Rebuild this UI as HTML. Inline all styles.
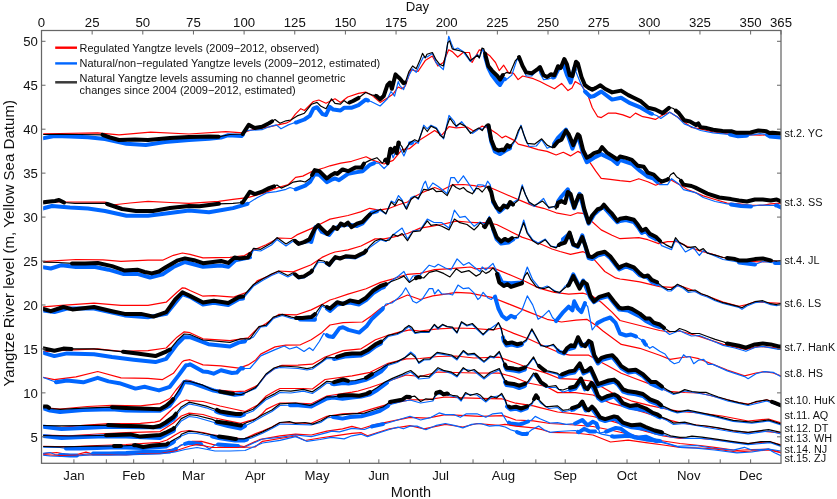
<!DOCTYPE html><html><head><meta charset="utf-8"><style>html,body{margin:0;padding:0;background:#fff;}svg{display:block;}text{font-family:"Liberation Sans",sans-serif;fill:#111;}.t{filter:grayscale(1)}</style></head><body>
<svg width="837" height="499" viewBox="0 0 837 499">
<rect width="100%" height="100%" fill="#fff"/><defs><clipPath id="plotclip"><rect x="43.2" y="30.5" width="737.8" height="432.8"/></clipPath></defs>
<g clip-path="url(#plotclip)"><g><path d="M42.0 134.0L60.0 133.5L97.7 132.8L119.0 134.8L150.6 132.1L189.0 134.0L225.9 131.6L242.7 132.8L252.3 129.7L269.0 126.8L286.0 123.2L290.0 121.3L295.4 114.1L300.8 108.7L304.4 110.5L313.4 101.5L318.8 100.0L326.0 103.3L335.0 98.8L340.5 102.4L347.7 97.0L358.5 93.4L365.7 92.1L372.9 96.1L380.1 102.4L387.4 97.9L392.8 94.3L398.2 87.0L401.8 88.8L405.4 85.9L410.8 69.7L418.0 71.5L425.2 60.6L432.4 56.1L437.9 66.0L443.3 62.5L448.7 49.8L452.3 51.6L457.7 57.0L463.1 52.5L469.4 52.5L472.1 62.5L479.3 49.8L483.0 50.7L490.1 56.1L495.5 62.5L499.2 70.6L503.7 65.2L508.2 72.4L513.6 73.3L518.1 79.6L522.6 76.0L533.4 78.7L540.0 81.5L547.2 85.2L554.4 88.8L561.6 83.4L568.0 90.6L572.0 88.0L575.2 81.5L581.5 85.2L587.8 95.1L592.3 107.7L597.7 116.7L601.3 117.6L608.5 113.1L615.7 113.1L622.9 114.9L630.1 117.6L635.5 113.1L642.8 116.7L648.2 117.6L655.4 119.4L662.6 114.9L669.8 112.2L677.0 116.7L684.2 122.1L691.3 127.3L700.6 128.9L713.1 132.0L728.8 134.0L744.4 134.7L760.0 135.2L769.4 134.7L781.0 133.6" stroke="#ff0000" stroke-width="1.2" fill="none" stroke-linejoin="round" stroke-linecap="round"/><path d="M42.0 138.4L54.4 136.0L70.0 136.5L88.0 137.2L105.0 139.0L126.5 143.7L145.8 144.9L165.0 142.0L189.0 140.0L209.0 138.8L221.0 137.6L228.3 135.2L241.5 136.0L247.5 130.4L262.0 129.7L269.0 126.8L276.3 124.9L281.0 128.8L288.4 124.9L293.0 123.2L297.2 122.2L304.4 119.5L309.8 115.9L313.4 108.7L317.0 107.2L322.4 114.1L326.0 115.0L329.7 106.9L333.3 109.6L340.5 110.5L344.0 107.8L351.3 107.8L358.5 105.1L365.7 99.7L371.0 101.5L380.1 106.0L387.4 98.8L391.0 91.5L394.6 96.1L398.2 81.6L400.0 85.9L403.6 89.5L409.0 75.1L412.6 68.8L416.2 72.4L419.8 64.3L423.4 57.0L427.0 57.0L432.4 53.4L436.0 62.5L439.7 66.0L443.3 69.7L446.0 55.2L448.7 36.3L451.4 43.5L454.1 49.8L457.7 48.0L463.1 51.6L470.3 61.5L477.5 54.3L479.3 57.9L482.9 48.9L488.3 67.9L491.9 75.1L497.4 82.3L500.0 85.0L503.7 78.7L506.4 79.6L511.8 75.1L517.2 58.8L520.8 62.5L526.2 76.0L531.6 76.0L538.8 68.8L540.0 73.4L543.6 79.7L549.0 78.8L554.4 77.0L558.0 69.8L563.4 64.4L567.0 75.2L570.6 82.5L574.3 68.0L581.5 85.2L585.0 91.5L590.5 96.9L594.0 96.0L601.3 91.5L612.1 99.6L621.1 97.8L630.1 103.2L641.0 107.7L650.0 113.1L657.2 115.8L660.8 118.5L669.8 112.2L677.0 116.7L684.2 123.9L691.3 126.6L700.6 130.5L713.1 132.8L728.8 134.4L738.0 136.2L746.0 135.7L753.8 134.7L760.0 133.6L766.3 134.4L770.0 136.5L781.0 137.5" stroke="#0066ff" stroke-width="1.2" fill="none" stroke-linejoin="round" stroke-linecap="round"/><path d="M42.0 138.4L54.4 136.0L70.0 136.5L88.0 137.2L105.0 139.0L126.5 143.7L145.8 144.9L165.0 142.0L189.0 140.0L209.0 138.8L221.0 137.6L228.3 135.2L241.5 136.0L243.0 134.6" stroke="#0066ff" stroke-width="4.0" fill="none" stroke-linejoin="round" stroke-linecap="round"/><path d="M296.0 122.5L297.2 122.2L304.4 119.5L309.8 115.9L313.4 108.7L317.0 107.2L322.4 114.1L326.0 115.0L329.7 106.9L333.3 109.6L340.5 110.5L344.0 107.8L351.3 107.8L358.5 105.1L365.7 99.7L368.0 100.5" stroke="#0066ff" stroke-width="4.0" fill="none" stroke-linejoin="round" stroke-linecap="round"/><path d="M485.0 56.3L488.3 67.9L491.9 75.1L497.4 82.3L500.0 85.0L503.7 78.7L505.0 79.1" stroke="#0066ff" stroke-width="4.0" fill="none" stroke-linejoin="round" stroke-linecap="round"/><path d="M553.0 77.5L554.4 77.0L558.0 69.8L563.4 64.4L567.0 75.2L570.6 82.5L574.3 68.0L575.0 69.7" stroke="#0066ff" stroke-width="4.0" fill="none" stroke-linejoin="round" stroke-linecap="round"/><path d="M585.0 91.5L590.5 96.9L594.0 96.0L601.3 91.5L612.1 99.6L621.1 97.8L630.1 103.2L641.0 107.7L650.0 113.1L652.0 113.8" stroke="#0066ff" stroke-width="4.0" fill="none" stroke-linejoin="round" stroke-linecap="round"/><path d="M730.0 134.6L738.0 136.2L746.0 135.7L747.0 135.6" stroke="#0066ff" stroke-width="4.0" fill="none" stroke-linejoin="round" stroke-linecap="round"/><path d="M767.0 134.8L770.0 136.5L781.0 137.5" stroke="#0066ff" stroke-width="4.0" fill="none" stroke-linejoin="round" stroke-linecap="round"/><path d="M42.0 134.5L60.0 134.3L80.0 134.5L102.5 134.8L110.0 137.5L119.0 140.0L135.0 139.5L148.0 140.0L170.0 138.0L189.0 137.0L209.0 136.5L218.6 136.8L230.0 134.5L242.7 134.0L248.7 124.9L254.7 128.0L262.0 126.8L269.0 123.2L275.0 119.6L280.0 123.2L286.0 120.8L290.8 120.0L297.2 115.9L304.4 113.2L311.6 104.2L317.0 102.4L320.6 106.0L326.0 108.7L331.5 98.8L335.0 103.3L340.5 104.2L344.0 100.6L347.7 103.3L353.0 101.0L358.5 97.9L362.0 95.2L365.7 92.5L372.9 95.2L376.5 96.0L380.1 99.3L383.7 96.0L387.4 85.2L390.0 82.5L391.9 88.8L395.5 74.4L398.2 77.1L400.0 78.7L403.6 83.2L405.4 82.3L409.0 71.5L412.6 66.0L416.2 68.8L419.8 60.6L422.5 53.4L425.2 57.9L427.0 54.3L432.4 52.5L436.0 59.7L439.7 64.3L443.3 66.0L446.0 53.4L447.8 42.6L449.6 40.8L452.3 48.9L455.9 49.8L459.5 50.7L464.9 52.5L470.3 60.6L473.9 57.9L477.5 55.2L479.3 57.9L482.0 48.0L483.8 48.9L488.3 66.0L491.9 70.6L497.4 76.0L500.0 79.6L502.8 75.1L506.4 72.4L510.0 73.3L515.4 60.6L519.0 57.0L522.6 66.0L526.2 72.4L531.6 73.3L537.0 69.7L540.0 67.1L543.6 75.2L547.2 77.0L550.8 74.3L554.4 75.2L558.0 66.2L560.7 68.0L564.3 59.0L567.0 64.4L569.7 75.2L572.4 76.1L576.0 61.7L577.9 63.5L581.5 77.0L585.0 85.2L588.7 87.9L592.3 89.7L595.9 87.9L600.4 85.2L604.9 88.8L612.1 92.4L621.1 90.6L628.3 95.1L633.7 97.8L641.0 101.4L648.2 107.7L655.4 109.5L662.6 113.1L669.8 107.3L673.4 108.5L678.8 113.1L684.2 120.3L690.0 121.5L696.0 125.0L698.3 123.4L700.6 127.3L706.9 128.1L713.1 129.7L722.5 130.9L731.9 131.3L736.6 132.8L744.4 132.8L750.6 132.5L758.4 130.5L766.3 131.3L769.4 133.1L772.5 132.8L781.0 133.6" stroke="#000000" stroke-width="1.2" fill="none" stroke-linejoin="round" stroke-linecap="round"/><path d="M102.5 134.8L110.0 137.5L119.0 140.0L135.0 139.5L148.0 140.0L170.0 138.0L189.0 137.0L209.0 136.5L218.6 136.8" stroke="#000000" stroke-width="4.0" fill="none" stroke-linejoin="round" stroke-linecap="round"/><path d="M242.7 134.0L248.7 124.9L254.7 128.0L262.0 126.8L269.0 123.2L272.0 121.4" stroke="#000000" stroke-width="4.0" fill="none" stroke-linejoin="round" stroke-linecap="round"/><path d="M349.5 102.5L353.0 101.0L358.5 97.9" stroke="#000000" stroke-width="4.0" fill="none" stroke-linejoin="round" stroke-linecap="round"/><path d="M376.0 95.9L376.5 96.0L380.1 99.3L383.7 96.0L387.4 85.2L390.0 82.5L391.9 88.8L395.5 74.4L398.2 77.1L400.0 78.7L403.6 83.2L405.0 82.5" stroke="#000000" stroke-width="4.0" fill="none" stroke-linejoin="round" stroke-linecap="round"/><path d="M485.0 53.5L488.3 66.0L491.9 70.6L497.4 76.0L500.0 79.6L502.8 75.1L503.0 75.0" stroke="#000000" stroke-width="4.0" fill="none" stroke-linejoin="round" stroke-linecap="round"/><path d="M519.0 57.0L522.6 66.0L526.2 72.4L531.6 73.3L537.0 69.7L540.0 67.1L543.6 75.2L547.2 77.0L550.8 74.3L554.4 75.2L558.0 66.2L560.7 68.0L564.3 59.0L567.0 64.4L569.7 75.2L572.4 76.1L576.0 61.7L577.9 63.5L581.5 77.0L585.0 85.2L588.7 87.9L592.3 89.7L595.9 87.9L600.4 85.2L604.9 88.8L612.1 92.4L621.1 90.6L628.3 95.1L633.7 97.8L641.0 101.4L648.2 107.7L655.4 109.5L662.6 113.1L669.0 107.9" stroke="#000000" stroke-width="4.0" fill="none" stroke-linejoin="round" stroke-linecap="round"/><path d="M676.0 110.7L678.8 113.1L684.2 120.3L690.0 121.5L696.0 125.0L698.3 123.4L700.6 127.3L706.9 128.1L713.1 129.7L722.5 130.9L731.9 131.3L736.6 132.8L744.4 132.8L750.6 132.5L758.4 130.5L766.3 131.3L769.4 133.1L772.5 132.8L781.0 133.6" stroke="#000000" stroke-width="4.0" fill="none" stroke-linejoin="round" stroke-linecap="round"/></g>
<g><path d="M42.0 202.0L66.0 202.0L105.0 202.1L112.0 205.0L130.0 203.0L148.0 201.3L170.0 202.5L189.0 203.3L218.6 201.3L233.0 199.4L247.5 197.7L264.3 192.9L276.3 188.1L288.4 184.5L295.6 177.3L302.8 176.1L312.4 171.3L324.4 167.7L330.0 165.8L340.8 163.1L351.6 161.3L366.1 156.8L373.3 160.4L384.1 164.0L393.1 160.4L402.1 149.6L409.3 148.7L420.1 139.7L427.3 135.2L434.6 130.6L441.8 135.2L449.0 126.7L456.2 127.9L467.0 127.0L472.4 130.3L475.0 131.5L482.2 126.1L489.4 128.8L496.6 133.4L502.0 137.9L505.6 136.0L514.7 140.6L518.3 144.2L529.1 146.9L538.1 149.6L547.1 151.4L556.1 155.0L563.3 152.3L570.5 155.9L577.8 151.4L583.2 154.1L590.4 163.1L595.8 171.2L601.2 178.4L610.2 179.3L620.0 180.7L629.9 181.7L638.8 178.7L647.8 181.7L655.7 185.2L663.6 182.0L670.6 179.7L679.5 184.6L687.4 189.6L695.4 192.6L703.3 195.9L715.2 199.5L727.1 203.1L739.0 203.9L750.9 205.4L762.8 205.4L770.7 203.9L781.0 203.1" stroke="#ff0000" stroke-width="1.2" fill="none" stroke-linejoin="round" stroke-linecap="round"/><path d="M42.0 208.6L52.0 206.0L70.0 207.5L88.0 208.6L105.0 211.0L126.5 215.8L148.0 215.8L170.0 213.0L189.0 210.5L209.0 212.2L223.5 209.8L233.0 208.1L247.5 203.8L257.1 197.7L266.7 192.9L276.3 191.7L286.0 189.3L290.0 187.5L295.6 189.3L305.2 185.7L310.0 182.0L314.8 173.7L319.6 175.0L326.8 182.1L331.6 179.7L335.0 178.5L339.0 180.2L348.0 173.9L357.0 172.1L362.5 171.2L369.7 164.9L374.2 163.1L378.7 163.1L384.1 168.5L387.7 164.9L391.3 152.3L393.1 157.7L398.5 145.1L403.9 155.9L409.3 143.3L411.0 143.3L414.7 141.5L418.3 143.3L423.7 125.2L427.3 128.8L431.0 125.2L436.4 127.9L443.6 138.8L449.0 115.3L454.4 121.6L456.2 127.0L461.6 121.6L468.8 130.6L472.4 133.4L480.0 127.9L482.2 129.7L485.8 126.0L488.5 126.5L491.2 141.5L494.8 151.4L500.2 154.1L505.6 150.5L509.3 148.7L511.0 147.8L516.5 137.9L521.0 125.2L525.5 139.7L529.1 146.5L536.3 146.0L541.7 139.7L547.1 148.3L552.5 146.0L557.9 137.9L566.0 129.7L572.4 148.7L577.8 135.2L583.2 154.1L586.8 162.2L594.0 157.7L601.2 154.1L612.0 159.5L617.4 164.0L620.0 159.8L631.9 163.8L639.8 170.7L647.8 176.7L653.7 178.7L659.7 184.6L667.6 184.6L671.6 178.7L679.5 184.6L683.5 189.6L695.4 192.6L703.3 197.5L715.2 201.5L727.1 203.9L731.0 204.5L741.0 206.0L751.0 206.4L760.0 205.0L770.7 205.4L776.7 205.4L781.0 207.4" stroke="#0066ff" stroke-width="1.2" fill="none" stroke-linejoin="round" stroke-linecap="round"/><path d="M42.0 208.6L52.0 206.0L70.0 207.5L88.0 208.6L105.0 211.0L126.5 215.8L148.0 215.8L170.0 213.0L189.0 210.5L209.0 212.2L223.5 209.8L233.0 208.1L247.5 203.8" stroke="#0066ff" stroke-width="4.0" fill="none" stroke-linejoin="round" stroke-linecap="round"/><path d="M295.6 189.3L305.2 185.7L310.0 182.0L314.8 173.7L319.6 175.0L326.8 182.1L331.6 179.7L335.0 178.5L339.0 180.2L348.0 173.9L357.0 172.1L362.5 171.2L369.7 164.9L374.2 163.1" stroke="#0066ff" stroke-width="4.0" fill="none" stroke-linejoin="round" stroke-linecap="round"/><path d="M410.0 143.3L411.0 143.3L412.0 142.8" stroke="#0066ff" stroke-width="4.0" fill="none" stroke-linejoin="round" stroke-linecap="round"/><path d="M488.0 126.4L488.5 126.5L491.2 141.5L494.8 151.4L500.2 154.1L505.6 150.5L509.3 148.7L510.0 148.3" stroke="#0066ff" stroke-width="4.0" fill="none" stroke-linejoin="round" stroke-linecap="round"/><path d="M554.0 143.8L557.9 137.9L566.0 129.7L572.4 148.7L577.8 135.2L583.2 154.1L586.8 162.2L594.0 157.7L601.2 154.1L612.0 159.5L617.4 164.0L620.0 159.8L631.9 163.8L639.8 170.7L647.8 176.7L653.7 178.7L657.0 181.9" stroke="#0066ff" stroke-width="4.0" fill="none" stroke-linejoin="round" stroke-linecap="round"/><path d="M731.0 204.5L741.0 206.0L751.0 206.4" stroke="#0066ff" stroke-width="4.0" fill="none" stroke-linejoin="round" stroke-linecap="round"/><path d="M776.0 205.4L776.7 205.4L781.0 207.4" stroke="#0066ff" stroke-width="4.0" fill="none" stroke-linejoin="round" stroke-linecap="round"/><path d="M42.0 202.5L50.0 201.5L55.0 201.0L59.0 200.0L64.0 202.5L75.0 203.3L90.0 203.3L105.0 203.3L107.3 204.0L122.0 209.0L136.0 211.0L153.0 211.0L170.0 208.0L189.0 206.0L199.4 206.2L218.6 203.8L233.0 203.3L242.7 202.5L250.0 191.7L254.7 194.1L262.0 191.7L269.1 188.1L274.0 186.4L277.0 185.0L281.2 188.1L288.4 185.0L293.2 182.1L300.4 180.9L305.2 182.0L310.0 178.5L314.8 170.1L319.6 171.3L326.8 178.5L331.6 174.9L335.0 173.0L337.2 173.9L342.6 169.4L348.0 171.2L355.2 167.6L361.5 167.6L364.3 163.1L369.7 160.4L376.9 157.7L382.3 163.1L385.9 159.5L387.7 163.1L390.4 148.7L392.2 152.3L394.9 147.8L396.7 153.2L398.5 142.4L402.1 146.9L403.9 152.3L405.7 148.7L410.2 142.4L414.7 139.7L418.3 141.5L423.7 127.0L427.3 131.5L431.0 126.1L436.4 128.8L440.0 135.2L443.6 137.9L447.2 125.2L449.9 118.0L453.5 123.4L456.2 126.1L459.8 123.4L465.2 126.1L470.6 133.4L474.2 130.6L478.7 128.0L482.2 130.6L485.8 125.2L488.5 125.2L491.2 139.7L494.8 148.7L498.4 150.5L502.0 149.6L503.8 150.5L507.4 145.1L509.3 146.9L514.7 140.6L518.3 130.6L521.0 126.1L523.7 134.3L527.3 143.3L534.5 144.2L541.7 138.8L547.1 145.1L552.5 147.8L557.9 141.5L561.5 139.7L566.0 130.6L568.7 134.3L573.3 145.1L577.8 134.3L579.6 136.0L583.2 150.5L586.8 157.7L590.4 155.9L594.0 153.2L599.4 151.4L602.1 147.2L606.6 152.3L612.0 155.9L617.4 159.5L620.0 156.5L626.0 157.9L631.9 159.8L637.9 165.8L643.8 166.8L647.8 172.7L653.7 174.7L658.7 179.7L661.6 181.7L667.6 179.7L670.6 174.7L673.5 172.7L676.5 176.7L679.5 178.7L683.5 184.6L691.4 186.0L695.4 187.6L699.3 189.6L707.3 193.6L719.2 197.5L731.1 199.1L739.0 200.5L746.9 201.5L754.9 199.5L762.8 199.5L770.7 200.5L776.7 199.5L781.0 201.5" stroke="#000000" stroke-width="1.2" fill="none" stroke-linejoin="round" stroke-linecap="round"/><path d="M42.0 202.5L50.0 201.5L55.0 201.0L59.0 200.0L64.0 202.5" stroke="#000000" stroke-width="4.0" fill="none" stroke-linejoin="round" stroke-linecap="round"/><path d="M107.0 203.9L107.3 204.0L122.0 209.0L136.0 211.0L153.0 211.0L170.0 208.0L189.0 206.0L199.4 206.2L218.6 203.8L219.0 203.8" stroke="#000000" stroke-width="4.0" fill="none" stroke-linejoin="round" stroke-linecap="round"/><path d="M242.0 202.6L242.7 202.5L250.0 191.7L254.7 194.1L262.0 191.7L269.1 188.1L274.0 186.4" stroke="#000000" stroke-width="4.0" fill="none" stroke-linejoin="round" stroke-linecap="round"/><path d="M312.0 175.0L314.8 170.1L319.6 171.3L326.8 178.5L331.6 174.9L335.0 173.0L337.2 173.9L342.6 169.4L348.0 171.2L355.2 167.6L361.5 167.6L364.0 163.6" stroke="#000000" stroke-width="4.0" fill="none" stroke-linejoin="round" stroke-linecap="round"/><path d="M385.0 160.4L385.9 159.5L387.7 163.1L390.4 148.7L392.2 152.3L394.9 147.8L396.7 153.2L398.5 142.4L399.0 143.0" stroke="#000000" stroke-width="4.0" fill="none" stroke-linejoin="round" stroke-linecap="round"/><path d="M488.0 125.2L488.5 125.2L491.2 139.7L494.8 148.7L498.4 150.5L502.0 149.6L503.8 150.5L507.4 145.1L509.3 146.9L510.0 146.1" stroke="#000000" stroke-width="4.0" fill="none" stroke-linejoin="round" stroke-linecap="round"/><path d="M554.0 146.1L557.9 141.5L561.5 139.7L566.0 130.6L568.7 134.3L573.3 145.1L577.8 134.3L579.6 136.0L583.2 150.5L586.8 157.7L590.4 155.9L594.0 153.2L599.4 151.4L602.1 147.2L606.6 152.3L612.0 155.9L617.4 159.5L620.0 156.5L626.0 157.9L631.9 159.8L637.9 165.8L643.8 166.8L647.8 172.7L653.7 174.7L658.7 179.7L661.6 181.7L667.6 179.7L668.0 179.0" stroke="#000000" stroke-width="4.0" fill="none" stroke-linejoin="round" stroke-linecap="round"/><path d="M681.0 180.9L683.5 184.6L691.4 186.0L695.4 187.6L699.3 189.6L707.3 193.6L719.2 197.5L731.1 199.1L739.0 200.5L746.9 201.5L754.9 199.5L762.8 199.5L770.7 200.5L776.7 199.5L781.0 201.5" stroke="#000000" stroke-width="4.0" fill="none" stroke-linejoin="round" stroke-linecap="round"/></g>
<g><path d="M42.0 261.6L58.0 260.7L76.0 259.5L103.0 259.8L121.0 261.3L148.0 260.2L162.6 260.2L173.4 255.3L182.4 253.0L190.0 254.4L203.0 257.8L230.0 257.4L244.5 255.6L253.5 250.2L266.1 244.8L278.7 238.0L291.4 238.5L296.8 234.9L311.2 228.6L318.4 225.0L330.0 219.1L348.0 215.5L360.6 211.9L369.7 208.3L378.7 210.1L389.5 208.3L398.5 204.7L407.5 202.0L414.7 196.5L423.7 192.0L434.6 187.5L441.8 190.2L452.6 184.8L463.4 184.5L474.2 185.7L480.0 187.0L485.8 185.7L496.6 190.2L511.0 196.5L521.9 201.1L532.7 205.6L543.5 208.3L556.1 212.8L570.5 215.5L577.8 212.8L583.2 213.3L592.2 221.8L601.2 229.9L612.0 235.3L620.0 238.7L638.8 237.7L647.8 239.7L658.7 243.6L667.6 241.6L677.5 241.6L687.4 246.6L699.3 250.6L711.2 253.9L723.1 257.5L735.0 259.5L746.9 261.0L758.8 261.9L770.7 261.5L781.0 260.5" stroke="#ff0000" stroke-width="1.2" fill="none" stroke-linejoin="round" stroke-linecap="round"/><path d="M42.0 267.0L50.8 268.5L61.6 265.2L76.0 267.0L94.0 266.7L108.5 269.7L123.0 273.9L137.3 273.9L150.0 277.5L162.6 274.3L173.4 267.0L185.0 262.0L203.0 266.8L221.0 265.6L228.3 266.8L235.5 260.2L250.0 257.4L253.5 250.0L260.7 251.0L271.5 245.0L277.0 239.5L286.0 246.0L293.2 241.0L298.6 245.0L304.0 243.5L311.2 242.1L315.5 227.0L318.4 226.8L322.0 232.0L329.2 234.9L333.6 229.0L340.8 225.5L348.0 224.5L357.0 226.0L362.5 223.5L371.5 212.8L380.5 210.5L385.9 214.0L391.3 201.0L394.9 203.0L398.5 195.6L402.1 200.0L405.7 208.3L411.1 197.5L414.7 196.0L418.3 199.3L423.7 183.9L425.5 181.2L428.2 189.3L432.8 183.0L438.2 186.6L441.8 189.3L447.2 193.8L450.8 177.6L454.4 177.6L458.0 183.0L463.4 175.8L467.0 181.2L474.2 192.0L477.8 184.8L480.0 184.8L483.0 185.0L485.0 187.0L487.6 181.2L490.3 184.8L493.0 202.0L499.3 211.9L505.6 206.5L511.0 203.8L518.3 199.3L522.2 184.8L525.5 194.7L529.1 202.9L534.5 206.5L543.5 198.4L548.9 208.3L554.3 206.5L561.5 196.5L567.8 189.3L574.2 208.3L579.6 193.8L584.1 210.0L588.6 223.6L594.0 214.6L603.0 206.5L612.0 216.4L617.4 222.3L620.0 221.0L626.0 220.0L633.9 222.0L637.9 227.0L641.8 233.0L645.8 231.0L649.8 236.0L655.7 239.0L659.7 242.5L661.6 245.6L671.6 249.6L675.5 239.7L679.5 243.6L685.4 252.0L693.4 247.6L699.3 255.5L703.3 250.6L711.2 254.5L723.1 259.5L735.0 261.5L739.0 262.5L754.9 264.5L762.8 261.5L770.7 262.5L774.7 263.0L781.0 263.0" stroke="#0066ff" stroke-width="1.2" fill="none" stroke-linejoin="round" stroke-linecap="round"/><path d="M42.0 267.0L50.8 268.5L61.6 265.2L76.0 267.0L94.0 266.7L108.5 269.7L123.0 273.9L137.3 273.9L150.0 277.5L162.6 274.3L173.4 267.0L185.0 262.0L203.0 266.8L221.0 265.6L228.3 266.8L235.5 260.2L250.0 257.4" stroke="#0066ff" stroke-width="4.0" fill="none" stroke-linejoin="round" stroke-linecap="round"/><path d="M311.0 242.1L311.2 242.1L315.5 227.0L318.4 226.8L322.0 232.0L329.2 234.9L333.6 229.0L340.8 225.5L348.0 224.5L357.0 226.0L362.5 223.5L371.5 212.8L377.0 211.4" stroke="#0066ff" stroke-width="4.0" fill="none" stroke-linejoin="round" stroke-linecap="round"/><path d="M493.0 202.0L499.3 211.9L505.6 206.5L511.0 203.8" stroke="#0066ff" stroke-width="4.0" fill="none" stroke-linejoin="round" stroke-linecap="round"/><path d="M558.0 201.4L561.5 196.5L567.8 189.3L574.2 208.3L579.6 193.8L584.1 210.0L588.6 223.6L594.0 214.6L603.0 206.5L612.0 216.4L617.4 222.3L620.0 221.0L626.0 220.0L633.9 222.0L637.9 227.0L641.8 233.0L645.8 231.0L649.8 236.0L655.7 239.0L656.0 239.3" stroke="#0066ff" stroke-width="4.0" fill="none" stroke-linejoin="round" stroke-linecap="round"/><path d="M739.0 262.5L754.9 264.5L755.0 264.5" stroke="#0066ff" stroke-width="4.0" fill="none" stroke-linejoin="round" stroke-linecap="round"/><path d="M775.0 263.0L781.0 263.0" stroke="#0066ff" stroke-width="4.0" fill="none" stroke-linejoin="round" stroke-linecap="round"/><path d="M42.0 262.0L58.0 262.5L72.4 263.4L85.0 263.4L97.7 263.0L112.0 266.1L124.7 270.6L137.3 269.7L144.6 272.0L151.8 273.4L159.0 271.5L166.2 267.0L177.0 260.7L185.0 258.4L194.0 260.2L203.0 263.2L221.0 261.0L228.3 262.9L234.6 257.4L239.0 258.4L248.0 257.4L253.5 248.4L260.7 249.3L271.5 243.0L277.0 237.6L286.0 243.9L293.2 239.4L298.6 243.9L304.0 242.1L309.4 239.4L314.8 228.6L318.4 225.0L321.0 228.0L327.4 234.0L332.8 228.6L333.6 227.2L337.2 229.0L340.8 223.6L344.4 225.4L348.0 222.7L351.6 227.2L357.0 223.6L362.5 221.8L366.1 218.2L369.7 214.6L376.9 211.0L380.5 209.2L385.9 213.7L391.3 202.0L394.9 205.6L398.5 199.3L402.1 201.1L406.6 209.2L411.1 199.3L414.7 196.5L418.3 198.4L423.7 189.3L428.2 190.2L432.8 188.4L436.4 191.7L441.8 191.1L447.2 195.6L452.6 184.5L456.2 187.5L459.8 189.3L463.4 187.5L467.0 191.1L472.4 193.8L476.0 188.4L478.6 188.6L482.2 192.0L485.8 187.5L488.5 186.6L491.2 192.0L493.0 200.2L496.6 207.4L500.2 210.1L503.8 205.6L507.4 207.4L510.2 202.0L512.9 204.7L518.3 200.2L522.2 186.6L525.5 194.7L529.1 202.0L534.5 205.6L542.6 201.1L548.9 207.4L554.3 206.5L556.1 209.2L557.9 202.9L561.5 201.1L565.1 202.9L567.8 192.0L570.5 193.8L574.2 207.4L578.7 195.6L581.4 195.6L584.1 208.3L588.6 222.7L592.2 215.5L597.6 209.2L601.2 208.3L603.9 204.7L608.4 210.1L612.0 213.7L617.4 220.9L620.0 218.8L626.0 217.8L633.9 219.8L637.9 224.8L641.8 230.7L645.8 228.8L649.8 233.7L655.7 236.7L659.7 240.7L665.6 244.6L671.6 247.6L675.5 237.7L679.5 242.6L683.5 244.6L687.4 247.6L695.4 246.6L699.3 250.6L703.3 248.6L707.3 253.2L715.2 255.1L723.1 257.5L727.1 257.9L735.0 259.1L739.0 260.5L746.9 260.5L754.9 259.1L762.8 258.5L770.7 260.5L776.7 261.1L781.0 260.5" stroke="#000000" stroke-width="1.2" fill="none" stroke-linejoin="round" stroke-linecap="round"/><path d="M72.0 263.4L72.4 263.4L85.0 263.4L97.7 263.0L112.0 266.1L124.7 270.6L137.3 269.7L144.6 272.0L151.8 273.4L159.0 271.5L166.2 267.0L177.0 260.7L185.0 258.4L194.0 260.2L203.0 263.2L221.0 261.0L228.3 262.9L234.6 257.4L239.0 258.4L248.0 257.4L250.0 254.1" stroke="#000000" stroke-width="4.0" fill="none" stroke-linejoin="round" stroke-linecap="round"/><path d="M295.0 240.9L298.6 243.9L304.0 242.1L309.4 239.4L314.8 228.6L318.4 225.0L321.0 228.0L327.4 234.0L332.8 228.6L333.6 227.2L337.2 229.0L340.8 223.6L344.4 225.4L348.0 222.7L351.6 227.2L357.0 223.6L362.5 221.8L366.1 218.2L369.7 214.6L370.0 214.4" stroke="#000000" stroke-width="4.0" fill="none" stroke-linejoin="round" stroke-linecap="round"/><path d="M489.0 187.6L491.2 192.0L493.0 200.2L496.6 207.4L500.2 210.1L503.8 205.6L507.4 207.4L510.2 202.0L512.9 204.7L513.0 204.6" stroke="#000000" stroke-width="4.0" fill="none" stroke-linejoin="round" stroke-linecap="round"/><path d="M557.0 206.1L557.9 202.9L561.5 201.1L565.1 202.9L567.8 192.0L570.5 193.8L574.2 207.4L578.7 195.6L581.4 195.6L584.1 208.3L588.6 222.7L592.2 215.5L597.6 209.2L601.2 208.3L603.9 204.7L608.4 210.1L612.0 213.7L617.4 220.9L620.0 218.8L626.0 217.8L633.9 219.8L637.9 224.8L641.8 230.7L645.8 228.8L649.8 233.7L655.7 236.7L659.7 240.7L660.0 240.9" stroke="#000000" stroke-width="4.0" fill="none" stroke-linejoin="round" stroke-linecap="round"/><path d="M727.0 257.9L727.1 257.9L735.0 259.1L739.0 260.5L746.9 260.5L754.9 259.1L762.8 258.5L770.7 260.5L771.0 260.5" stroke="#000000" stroke-width="4.0" fill="none" stroke-linejoin="round" stroke-linecap="round"/></g>
<g><path d="M42.0 307.0L61.6 305.3L94.0 303.1L121.0 305.3L148.0 305.3L166.2 302.2L177.0 292.3L182.4 287.8L185.0 288.1L190.0 290.5L203.0 296.2L213.8 295.7L233.7 297.1L248.1 291.7L257.1 280.9L268.0 276.4L278.7 271.0L293.2 271.9L311.2 264.7L322.0 257.4L330.0 253.8L335.0 252.0L348.0 249.9L361.0 246.0L375.1 238.9L384.1 238.9L393.1 237.1L407.5 233.5L420.1 228.1L431.0 226.3L441.8 224.5L456.2 221.2L467.0 222.0L475.0 222.7L485.8 222.7L496.6 224.5L511.0 231.7L521.9 237.1L532.7 240.7L543.5 245.2L552.0 249.0L560.0 251.5L570.5 254.4L583.2 251.7L590.4 255.3L597.6 263.4L604.8 271.5L615.6 277.9L620.0 279.0L625.0 279.7L639.8 281.9L659.7 286.6L671.6 287.3L679.5 285.5L691.4 289.8L699.3 293.2L711.2 297.5L723.1 302.1L739.0 306.3L746.9 304.5L754.9 301.7L766.0 302.5L781.0 303.3" stroke="#ff0000" stroke-width="1.2" fill="none" stroke-linejoin="round" stroke-linecap="round"/><path d="M42.0 310.3L54.4 312.1L67.0 308.5L94.0 308.5L124.7 315.4L148.0 317.2L166.2 313.9L182.4 294.0L190.0 296.8L203.0 304.5L213.8 302.7L228.3 305.0L239.0 299.0L243.0 298.5L253.5 286.0L262.5 280.5L271.5 275.5L278.7 272.5L287.8 277.0L293.2 274.3L298.6 279.0L304.0 278.0L311.2 273.5L318.4 262.0L323.8 262.5L329.2 266.5L335.4 259.0L346.2 258.0L355.2 259.0L364.3 254.5L369.7 247.5L380.5 239.8L385.9 241.5L394.9 233.5L402.1 228.1L407.5 239.0L412.9 231.0L420.1 230.0L427.3 219.1L434.0 222.5L441.8 222.7L449.0 228.1L454.4 210.1L459.8 217.3L465.2 216.4L474.2 226.3L480.0 222.0L484.9 224.0L489.4 216.4L493.0 229.0L496.6 239.0L501.1 243.5L508.4 242.5L512.0 240.0L518.3 238.0L523.7 220.0L527.3 232.0L532.7 239.8L538.1 243.0L545.3 239.0L550.7 246.0L556.1 247.0L563.3 238.9L569.6 233.5L573.3 245.0L577.8 247.0L582.3 235.3L585.5 247.0L588.6 258.0L592.2 259.0L597.6 255.5L604.8 253.5L610.2 258.0L615.6 265.0L619.2 269.5L626.0 266.5L633.9 269.5L639.8 275.4L647.8 277.5L651.7 281.9L656.7 284.0L661.6 287.0L667.6 290.8L671.0 291.0L677.5 285.5L683.5 288.5L688.4 292.5L695.0 291.5L701.3 295.0L707.3 297.0L715.2 300.8L723.1 303.5L731.1 305.5L739.0 307.5L742.0 309.3L746.9 306.0L754.9 302.7L762.8 301.7L770.7 304.7L776.7 305.7L781.0 304.5" stroke="#0066ff" stroke-width="1.2" fill="none" stroke-linejoin="round" stroke-linecap="round"/><path d="M42.0 310.3L54.4 312.1L67.0 308.5L94.0 308.5L124.7 315.4L148.0 317.2L166.2 313.9L182.4 294.0L190.0 296.8L203.0 304.5L213.8 302.7L228.3 305.0L239.0 299.0L243.0 298.5" stroke="#0066ff" stroke-width="4.0" fill="none" stroke-linejoin="round" stroke-linecap="round"/><path d="M493.0 229.0L496.6 239.0L501.1 243.5L508.4 242.5L512.0 240.0L513.0 239.7" stroke="#0066ff" stroke-width="4.0" fill="none" stroke-linejoin="round" stroke-linecap="round"/><path d="M563.0 239.2L563.3 238.9L569.6 233.5L573.3 245.0L577.8 247.0L582.3 235.3L585.5 247.0L588.6 258.0L592.2 259.0L597.6 255.5L604.8 253.5L610.2 258.0L615.6 265.0L619.2 269.5L626.0 266.5L633.9 269.5L639.8 275.4L647.8 277.5L651.7 281.9L656.7 284.0L657.0 284.2" stroke="#0066ff" stroke-width="4.0" fill="none" stroke-linejoin="round" stroke-linecap="round"/><path d="M42.0 308.5L50.8 311.2L63.4 307.0L72.4 309.4L94.0 307.0L112.0 311.2L124.7 313.9L141.0 313.9L153.6 316.6L166.2 312.1L175.2 299.5L182.4 292.3L185.0 293.5L190.0 295.9L203.0 302.5L213.8 300.7L228.3 302.9L239.0 297.1L243.0 296.5L253.5 284.5L262.5 279.1L271.5 274.0L278.7 271.0L287.8 275.5L293.2 272.8L298.6 277.3L304.0 276.4L311.2 271.9L318.4 260.2L323.8 261.0L329.2 264.7L332.0 261.0L335.4 257.1L340.0 258.5L346.2 256.2L355.2 257.1L361.0 254.0L364.3 252.6L369.7 246.1L375.0 241.0L380.5 238.9L385.9 240.7L389.5 240.0L393.1 234.4L397.6 236.2L402.1 233.5L407.5 240.7L412.9 231.7L420.1 230.8L427.3 220.9L431.0 225.4L436.4 224.5L441.8 226.3L449.0 229.9L454.4 219.1L459.8 222.7L467.0 224.5L474.2 229.9L478.0 226.0L480.4 222.7L484.9 227.2L489.4 219.1L493.0 228.1L496.6 237.1L501.1 241.6L504.8 238.9L508.4 240.7L512.0 238.0L518.3 237.1L523.7 222.7L527.3 233.5L532.7 240.7L538.1 244.3L545.3 239.8L550.7 246.1L556.1 247.9L559.7 244.3L565.1 242.5L569.6 232.6L573.3 244.3L577.8 246.1L582.3 237.1L585.5 246.0L588.6 256.2L592.2 257.1L597.6 253.5L604.8 251.7L610.2 256.2L615.6 263.4L619.2 267.9L622.0 266.0L626.0 264.5L633.9 267.4L639.8 273.4L643.8 276.6L647.8 275.4L651.7 279.9L656.7 282.0L661.6 285.9L667.6 289.5L671.0 289.5L677.5 284.3L683.5 287.3L688.4 290.8L695.0 290.0L701.3 293.8L707.3 295.8L715.2 299.8L723.1 302.7L731.1 304.7L739.0 306.7L742.0 307.7L746.9 304.7L754.9 301.7L762.8 300.7L770.7 303.7L776.7 304.7L781.0 303.5" stroke="#000000" stroke-width="1.2" fill="none" stroke-linejoin="round" stroke-linecap="round"/><path d="M42.0 308.5L50.8 311.2L63.4 307.0L72.4 309.4L94.0 307.0L112.0 311.2L124.7 313.9L141.0 313.9L153.6 316.6L166.2 312.1L175.2 299.5L182.4 292.3L185.0 293.5L190.0 295.9L203.0 302.5L213.8 300.7L228.3 302.9L239.0 297.1L243.0 296.5" stroke="#000000" stroke-width="4.0" fill="none" stroke-linejoin="round" stroke-linecap="round"/><path d="M295.0 274.3L298.6 277.3L304.0 276.4L311.2 271.9L312.0 270.6" stroke="#000000" stroke-width="4.0" fill="none" stroke-linejoin="round" stroke-linecap="round"/><path d="M327.0 263.2L329.2 264.7L332.0 261.0L335.4 257.1L340.0 258.5L346.2 256.2L355.2 257.1L361.0 254.0L364.3 252.6L366.0 250.6" stroke="#000000" stroke-width="4.0" fill="none" stroke-linejoin="round" stroke-linecap="round"/><path d="M484.0 226.3L484.9 227.2L489.4 219.1L493.0 228.1L496.6 237.1L501.1 241.6L504.8 238.9L508.4 240.7L512.0 238.0" stroke="#000000" stroke-width="4.0" fill="none" stroke-linejoin="round" stroke-linecap="round"/><path d="M559.0 245.0L559.7 244.3L565.1 242.5L569.6 232.6L573.3 244.3L577.8 246.1L582.3 237.1L585.5 246.0L588.6 256.2L592.2 257.1L597.6 253.5L604.8 251.7L610.2 256.2L615.6 263.4L619.2 267.9L622.0 266.0L626.0 264.5L633.9 267.4L639.8 273.4L643.8 276.6L647.8 275.4L651.7 279.9L656.7 282.0L657.0 282.2" stroke="#000000" stroke-width="4.0" fill="none" stroke-linejoin="round" stroke-linecap="round"/></g>
<g><path d="M42.0 351.6L67.0 350.2L97.7 348.9L121.0 351.3L148.0 350.7L166.2 348.0L177.0 337.2L184.2 331.8L190.0 332.7L203.0 338.8L230.0 340.6L248.1 337.9L257.1 328.8L266.1 323.4L278.7 314.4L296.8 314.8L311.2 309.9L323.8 303.6L330.0 300.0L335.0 298.5L348.0 294.1L366.1 288.7L380.5 282.4L393.1 278.8L407.5 274.3L420.1 273.4L434.6 269.7L447.2 268.8L459.8 267.9L470.6 267.0L475.0 268.8L493.0 267.9L511.0 275.2L525.5 281.5L538.1 287.8L554.3 292.3L568.7 294.1L583.2 293.2L592.2 295.9L601.2 302.2L612.0 312.1L620.0 320.5L639.8 325.5L659.7 330.5L669.6 332.0L679.5 331.0L699.3 336.4L723.1 344.4L745.9 349.3L758.8 346.4L781.0 348.3" stroke="#ff0000" stroke-width="1.2" fill="none" stroke-linejoin="round" stroke-linecap="round"/><path d="M42.0 352.5L54.4 356.1L67.0 353.4L94.0 354.3L112.0 357.0L133.7 359.7L155.4 362.1L166.2 358.8L177.0 344.4L184.2 337.2L190.0 337.2L208.4 344.2L230.0 346.5L239.0 342.4L244.5 341.5L253.5 337.0L260.7 327.0L266.1 326.5L273.3 318.5L282.3 315.5L291.4 318.5L300.0 319.5L314.8 319.8L322.0 306.0L327.4 309.0L330.0 311.0L337.2 304.5L349.8 302.5L358.8 304.5L366.1 300.0L373.3 293.0L380.5 288.5L385.9 286.5L391.3 281.0L398.5 276.0L403.9 271.5L409.3 281.5L412.9 276.0L420.1 275.2L429.2 265.2L434.6 267.0L438.2 264.3L445.4 268.0L450.8 270.0L457.1 258.9L463.4 265.2L468.8 262.5L474.2 267.0L480.0 271.5L482.2 267.0L485.8 270.0L493.0 263.4L496.6 271.0L502.0 282.4L511.0 283.3L521.9 282.4L527.3 267.0L532.7 279.7L540.0 288.7L547.1 286.0L554.3 290.5L559.7 293.2L565.1 286.0L568.7 285.0L573.3 274.3L579.6 287.0L583.2 280.6L590.4 297.7L594.0 302.2L599.4 298.5L608.4 296.0L613.8 303.0L619.2 309.5L627.9 310.5L639.8 316.5L645.8 321.0L653.7 325.0L659.7 327.0L663.6 330.0L669.6 334.5L679.5 330.5L685.4 333.5L691.4 336.0L699.3 335.5L715.2 342.0L723.1 345.4L735.0 348.0L745.9 351.3L754.9 347.5L762.8 346.3L778.7 349.3L781.0 349.5" stroke="#0066ff" stroke-width="1.2" fill="none" stroke-linejoin="round" stroke-linecap="round"/><path d="M42.0 352.5L54.4 356.1L67.0 353.4L94.0 354.3L112.0 357.0L133.7 359.7L155.4 362.1L166.2 358.8L177.0 344.4L184.2 337.2L190.0 337.2L208.4 344.2L230.0 346.5L239.0 342.4L244.5 341.5L245.0 341.2" stroke="#0066ff" stroke-width="4.0" fill="none" stroke-linejoin="round" stroke-linecap="round"/><path d="M300.0 319.5L314.8 319.8L315.0 319.4" stroke="#0066ff" stroke-width="4.0" fill="none" stroke-linejoin="round" stroke-linecap="round"/><path d="M327.0 308.8L327.4 309.0L330.0 311.0L337.2 304.5L349.8 302.5L358.8 304.5L366.1 300.0L373.3 293.0L380.5 288.5L384.0 287.2" stroke="#0066ff" stroke-width="4.0" fill="none" stroke-linejoin="round" stroke-linecap="round"/><path d="M498.0 274.0L502.0 282.4L511.0 283.3L521.9 282.4L522.0 282.1" stroke="#0066ff" stroke-width="4.0" fill="none" stroke-linejoin="round" stroke-linecap="round"/><path d="M568.0 285.2L568.7 285.0L573.3 274.3L579.6 287.0L583.2 280.6L590.4 297.7L594.0 302.2L599.4 298.5L608.4 296.0L613.8 303.0L619.2 309.5L627.9 310.5L639.8 316.5L645.8 321.0L653.7 325.0L659.7 327.0L660.0 327.2" stroke="#0066ff" stroke-width="4.0" fill="none" stroke-linejoin="round" stroke-linecap="round"/><path d="M42.0 348.0L54.4 350.7L63.4 348.6L71.5 348.9L94.0 348.9L121.0 351.6L137.3 353.4L155.4 356.1L166.2 351.6L170.0 349.5L177.0 340.8L184.2 334.0L190.0 334.5L203.0 340.0L230.0 342.4L240.9 338.8L249.9 338.8L258.9 326.7L266.1 325.2L273.3 317.1L282.3 314.4L291.4 317.1L296.0 318.0L302.2 318.0L311.2 317.1L314.8 314.4L322.0 304.5L327.4 307.2L330.0 308.5L337.2 302.2L343.0 304.0L349.8 300.4L358.8 302.2L366.1 297.7L373.3 290.5L380.5 286.0L385.9 284.2L391.3 281.5L398.5 278.8L403.9 276.1L409.3 282.4L414.7 278.8L418.3 277.0L423.7 278.0L429.2 272.4L436.4 270.6L443.6 273.4L449.9 277.0L456.2 268.8L461.6 272.4L468.8 270.6L476.0 276.1L480.0 274.0L482.2 270.6L485.8 273.4L489.4 271.6L493.0 267.9L496.6 272.4L499.3 282.4L503.8 286.0L507.4 284.2L511.0 286.9L516.5 285.0L521.9 283.3L524.6 276.1L527.3 272.4L530.9 279.7L536.3 286.9L543.5 288.7L548.9 286.9L554.3 291.4L559.7 292.3L565.1 287.8L568.7 285.1L573.3 276.1L576.0 281.5L579.6 288.7L583.2 281.5L586.8 284.2L590.4 295.9L594.0 301.3L599.4 296.8L608.4 294.1L613.8 301.3L619.2 307.6L622.0 308.5L627.9 307.7L632.0 309.0L639.8 313.6L645.8 318.6L649.8 318.6L653.7 322.6L659.7 324.5L663.6 327.5L669.6 331.5L675.5 331.5L679.5 328.5L685.4 330.5L691.4 333.5L699.3 333.5L707.3 336.5L715.2 339.4L723.1 341.8L727.1 343.4L739.0 345.8L745.9 347.7L754.9 344.4L762.8 343.4L770.7 344.4L778.7 346.4L781.0 346.6" stroke="#000000" stroke-width="1.2" fill="none" stroke-linejoin="round" stroke-linecap="round"/><path d="M42.0 348.0L54.4 350.7L63.4 348.6L71.5 348.9" stroke="#000000" stroke-width="4.0" fill="none" stroke-linejoin="round" stroke-linecap="round"/><path d="M123.0 351.8L137.3 353.4L155.4 356.1L166.2 351.6L170.0 349.5" stroke="#000000" stroke-width="4.0" fill="none" stroke-linejoin="round" stroke-linecap="round"/><path d="M296.0 318.0L302.2 318.0L311.2 317.1L314.8 314.4L315.0 314.1" stroke="#000000" stroke-width="4.0" fill="none" stroke-linejoin="round" stroke-linecap="round"/><path d="M327.0 307.0L327.4 307.2L330.0 308.5L337.2 302.2L343.0 304.0L349.8 300.4L358.8 302.2L366.1 297.7L373.3 290.5L380.5 286.0L385.9 284.2L386.0 284.1" stroke="#000000" stroke-width="4.0" fill="none" stroke-linejoin="round" stroke-linecap="round"/><path d="M416.0 278.1L418.3 277.0L420.0 277.3" stroke="#000000" stroke-width="4.0" fill="none" stroke-linejoin="round" stroke-linecap="round"/><path d="M497.0 273.9L499.3 282.4L503.8 286.0L507.4 284.2L511.0 286.9L516.5 285.0L521.9 283.3L522.0 283.0" stroke="#000000" stroke-width="4.0" fill="none" stroke-linejoin="round" stroke-linecap="round"/><path d="M568.0 285.6L568.7 285.1L573.3 276.1L576.0 281.5L579.6 288.7L583.2 281.5L586.8 284.2L590.4 295.9L594.0 301.3L599.4 296.8L608.4 294.1L613.8 301.3L619.2 307.6L622.0 308.5L627.9 307.7L632.0 309.0L639.8 313.6L645.8 318.6L649.8 318.6L653.7 322.6L659.7 324.5L663.6 327.5L664.0 327.8" stroke="#000000" stroke-width="4.0" fill="none" stroke-linejoin="round" stroke-linecap="round"/><path d="M727.0 343.4L727.1 343.4L739.0 345.8L745.9 347.7L754.9 344.4L762.8 343.4L770.7 344.4L778.7 346.4L781.0 346.6" stroke="#000000" stroke-width="4.0" fill="none" stroke-linejoin="round" stroke-linecap="round"/></g>
<g><path d="M42.0 377.2L54.4 379.6L76.0 376.9L97.7 371.5L121.0 377.8L148.0 378.3L162.6 379.6L173.4 373.3L182.0 362.0L184.2 360.6L190.0 359.7L203.0 364.9L221.0 365.8L239.0 368.1L248.1 364.9L255.7 360.0L260.7 354.1L275.1 346.9L286.0 345.1L300.4 344.8L311.2 339.7L322.0 332.4L330.0 325.0L343.1 322.7L362.5 322.0L371.5 315.7L380.5 308.5L393.1 301.3L407.5 295.0L420.1 299.5L432.8 295.9L445.4 294.1L456.2 292.3L470.6 293.2L475.0 294.1L493.0 297.7L511.0 304.9L529.1 312.1L547.1 319.3L561.5 322.0L576.0 320.2L586.8 319.3L597.6 326.5L603.0 331.0L621.3 344.4L639.8 348.3L659.7 355.3L670.0 359.4L688.6 356.5L698.7 358.7L713.0 364.4L727.3 370.1L744.6 375.9L756.0 373.0L764.6 371.6L773.2 373.0L781.0 376.0" stroke="#ff0000" stroke-width="1.2" fill="none" stroke-linejoin="round" stroke-linecap="round"/><path d="M42.0 377.0L56.2 382.3L67.0 380.5L83.3 382.3L97.7 377.8L108.5 381.4L119.3 383.2L135.5 388.6L144.6 386.8L151.8 388.6L159.0 390.4L169.8 386.8L178.8 375.1L186.0 365.2L188.4 365.0L190.0 364.3L203.0 371.6L208.4 372.1L213.6 373.7L221.0 370.3L231.9 373.0L236.8 372.6L240.9 368.1L243.0 368.4L249.9 368.5L260.7 355.9L275.1 349.6L284.2 346.0L289.6 349.0L296.8 346.9L304.0 351.4L309.4 347.8L313.0 350.5L319.3 341.5L323.8 333.4L328.7 336.2L333.0 337.0L339.5 328.1L343.0 327.2L348.5 329.9L359.3 332.6L366.5 326.3L371.5 319.3L382.3 309.4L385.9 304.0L392.0 303.0L398.5 297.7L402.0 294.0L405.7 287.8L409.3 294.0L412.9 301.3L416.5 303.0L422.0 299.5L429.2 288.7L432.8 288.7L434.6 294.0L438.2 289.6L441.8 294.0L449.0 294.0L452.6 295.0L458.0 285.1L463.4 288.7L468.8 287.8L474.2 293.2L477.8 299.5L480.0 297.7L483.1 292.3L487.6 297.7L491.2 299.5L494.8 295.9L498.4 308.5L502.0 315.7L506.5 319.3L511.0 315.7L514.7 317.5L521.9 310.3L527.3 295.9L532.7 304.9L538.1 319.3L543.5 315.7L548.9 310.3L552.5 317.5L556.1 321.1L563.3 312.1L568.7 306.7L572.4 310.3L574.2 301.3L577.8 308.5L581.4 312.1L585.0 303.1L587.7 306.7L592.2 330.0L597.6 322.9L604.8 319.3L610.2 317.5L615.6 322.9L620.0 333.5L626.0 335.5L631.0 334.5L635.9 336.4L640.0 339.0L643.8 341.4L644.7 343.5L649.8 348.3L652.7 346.5L659.7 351.3L665.0 354.0L670.0 360.8L674.3 363.7L679.0 362.2L683.6 354.7L686.5 357.2L690.0 356.5L693.7 363.7L698.7 360.1L703.7 359.4L708.0 364.4L713.0 364.4L727.3 370.9L744.6 376.6L748.1 378.7L756.0 373.7L764.6 371.6L773.2 372.3L781.0 376.6" stroke="#0066ff" stroke-width="1.2" fill="none" stroke-linejoin="round" stroke-linecap="round"/><path d="M56.0 382.2L56.2 382.3L67.0 380.5L83.3 382.3L97.7 377.8L108.5 381.4L119.3 383.2L135.5 388.6L144.6 386.8L151.8 388.6L159.0 390.4L169.8 386.8L178.8 375.1L186.0 365.2L188.4 365.0L190.0 364.3L203.0 371.6L208.4 372.1L213.6 373.7L221.0 370.3L231.9 373.0L236.8 372.6L240.9 368.1L243.0 368.4" stroke="#0066ff" stroke-width="4.0" fill="none" stroke-linejoin="round" stroke-linecap="round"/><path d="M327.0 335.2L328.7 336.2L333.0 337.0L339.5 328.1L343.0 327.2L348.5 329.9L359.3 332.6L366.5 326.3L371.5 319.3L382.3 309.4L383.0 308.3" stroke="#0066ff" stroke-width="4.0" fill="none" stroke-linejoin="round" stroke-linecap="round"/><path d="M495.0 296.6L498.4 308.5L502.0 315.7L506.5 319.3L511.0 315.7L514.7 317.5L515.0 317.2" stroke="#0066ff" stroke-width="4.0" fill="none" stroke-linejoin="round" stroke-linecap="round"/><path d="M556.0 321.0L556.1 321.1L563.3 312.1L568.7 306.7L572.4 310.3L574.2 301.3L577.8 308.5L581.4 312.1L585.0 303.1" stroke="#0066ff" stroke-width="4.0" fill="none" stroke-linejoin="round" stroke-linecap="round"/><path d="M597.0 323.7L597.6 322.9L604.8 319.3L610.2 317.5L615.6 322.9L620.0 333.5L626.0 335.5L631.0 334.5L635.9 336.4L636.0 336.5" stroke="#0066ff" stroke-width="4.0" fill="none" stroke-linejoin="round" stroke-linecap="round"/><path d="M643.0 340.9L643.8 341.4L644.7 343.5L646.0 344.7" stroke="#0066ff" stroke-width="4.0" fill="none" stroke-linejoin="round" stroke-linecap="round"/></g>
<g><path d="M42.0 407.5L60.0 409.0L87.3 406.5L111.7 405.3L140.4 405.8L160.0 403.6L169.8 398.5L176.0 390.0L182.4 382.3L186.0 380.0L190.0 380.5L203.0 385.5L213.6 389.5L234.7 391.6L245.2 391.1L257.8 385.2L266.2 374.7L274.7 368.4L282.0 365.3L298.0 365.1L312.4 364.2L325.1 357.0L343.1 350.6L361.1 348.8L375.5 339.8L388.2 335.3L397.2 332.6L409.8 329.9L420.0 331.0L438.0 328.9L456.1 328.0L474.0 328.5L492.1 329.8L501.1 328.0L513.7 333.4L528.2 338.8L546.2 347.0L560.6 353.3L570.0 355.1L588.8 355.2L599.7 361.5L606.9 365.2L621.3 373.3L635.7 378.7L650.1 384.1L668.2 391.3L684.7 392.5L699.6 393.0L718.3 397.5L738.8 402.5L748.1 404.0L766.7 399.8L781.0 404.5" stroke="#ff0000" stroke-width="1.2" fill="none" stroke-linejoin="round" stroke-linecap="round"/><path d="M42.0 407.9L50.0 410.5L60.0 411.9L83.0 410.0L111.7 409.3L126.0 410.5L140.4 410.8L160.0 410.8L169.8 405.7L178.8 393.1L184.2 382.0L192.6 383.1L213.6 390.5L234.7 394.7L243.0 393.7L255.7 388.4L266.0 375.0L274.0 369.0L280.0 367.5L298.0 368.5L307.0 370.0L312.4 369.0L321.5 362.5L326.9 358.5L334.1 359.0L344.9 356.5L361.1 355.5L368.3 352.0L375.5 346.5L381.0 343.5L388.2 336.5L397.2 334.5L402.6 331.8L408.9 326.5L415.2 333.5L420.8 332.5L429.0 332.5L434.4 325.0L438.0 329.0L442.5 325.0L452.4 328.0L457.0 333.0L461.5 322.5L466.9 326.0L472.3 324.5L477.7 330.0L483.1 335.0L488.5 330.0L498.4 323.0L501.1 329.0L503.8 341.0L506.5 345.5L511.9 344.5L517.4 346.0L521.0 345.0L526.4 341.0L531.8 330.0L535.4 336.2L540.8 346.0L553.4 345.5L558.8 351.6L564.2 353.5L567.2 349.5L574.4 347.5L578.0 339.0L581.6 346.0L588.8 342.5L594.3 357.0L597.9 363.5L601.5 360.0L612.3 357.0L621.3 368.0L628.5 372.5L635.7 371.5L642.9 376.0L651.2 384.0L662.4 388.8L673.5 394.5L684.7 391.0L699.6 393.5L710.8 395.5L727.6 401.0L748.1 405.5L766.7 401.0L781.0 406.5" stroke="#0066ff" stroke-width="1.2" fill="none" stroke-linejoin="round" stroke-linecap="round"/><path d="M42.0 407.9L50.0 410.5L60.0 411.9L83.0 410.0L111.7 409.3L126.0 410.5L140.4 410.8L160.0 410.8L169.8 405.7L178.8 393.1L184.2 382.0L192.6 383.1L213.6 390.5L234.7 394.7L243.0 393.7" stroke="#0066ff" stroke-width="4.0" fill="none" stroke-linejoin="round" stroke-linecap="round"/><path d="M334.0 359.0L334.1 359.0L344.9 356.5L361.1 355.5L368.3 352.0L375.5 346.5L381.0 343.5" stroke="#0066ff" stroke-width="4.0" fill="none" stroke-linejoin="round" stroke-linecap="round"/><path d="M503.0 337.4L503.8 341.0L506.5 345.5L511.9 344.5L517.4 346.0L521.0 345.0L522.0 344.3" stroke="#0066ff" stroke-width="4.0" fill="none" stroke-linejoin="round" stroke-linecap="round"/><path d="M558.0 350.7L558.8 351.6L564.2 353.5L567.2 349.5L574.4 347.5L578.0 339.0L581.6 346.0L588.8 342.5L594.3 357.0L597.9 363.5L601.5 360.0L612.3 357.0L621.3 368.0L628.5 372.5L635.7 371.5L642.9 376.0L651.2 384.0L662.0 388.6" stroke="#0066ff" stroke-width="4.0" fill="none" stroke-linejoin="round" stroke-linecap="round"/><path d="M42.0 406.5L47.0 406.5L50.0 408.5L60.0 409.3L83.0 408.2L111.7 407.2L126.0 407.9L140.4 408.6L160.0 409.3L166.2 405.7L171.6 401.0L173.4 398.5L180.6 387.7L184.2 381.0L190.0 381.5L203.0 385.2L212.5 389.7L220.0 391.6L232.6 393.7L237.5 394.4L241.0 394.7L246.9 392.0L255.7 387.4L257.8 385.0L266.0 374.0L274.0 368.0L280.0 366.0L290.8 366.5L298.0 367.0L307.0 368.7L312.4 367.5L321.5 361.5L326.9 357.0L334.1 357.9L344.9 354.3L352.1 353.4L361.1 353.4L368.3 349.7L375.5 344.3L381.0 341.6L388.2 335.3L397.2 333.5L402.6 330.8L405.2 328.0L408.9 325.4L411.6 327.2L415.2 332.6L420.8 331.6L429.0 331.6L434.4 324.4L438.0 328.0L442.5 324.4L447.0 326.6L452.4 327.1L457.0 332.5L461.5 321.7L466.9 325.3L472.3 323.5L477.7 328.9L483.1 334.3L488.5 328.9L493.9 329.8L498.4 322.6L501.1 328.0L503.8 339.7L506.5 343.4L511.9 342.4L517.4 344.3L521.0 343.4L526.4 339.7L531.8 328.9L535.4 335.2L540.8 345.2L546.2 347.0L553.4 344.3L558.8 350.6L560.0 351.6L564.2 352.4L567.2 348.0L570.8 345.3L574.4 346.2L578.0 337.2L581.6 344.4L585.2 346.2L588.8 340.8L591.5 342.6L594.3 355.2L597.9 361.5L601.5 357.9L606.9 356.1L612.3 355.2L615.9 358.8L621.3 366.1L628.5 370.6L635.7 369.7L642.9 374.2L651.2 382.1L656.0 382.0L662.4 386.8L668.2 390.4L673.5 393.3L679.0 392.6L684.7 389.6L692.0 391.5L699.6 392.4L706.0 392.4L710.8 394.2L718.3 397.0L727.6 399.8L738.8 402.6L748.1 404.5L755.5 401.7L766.7 399.8L774.2 402.6L781.0 405.4" stroke="#000000" stroke-width="1.2" fill="none" stroke-linejoin="round" stroke-linecap="round"/><path d="M42.0 406.5L47.0 406.5L49.0 407.8" stroke="#000000" stroke-width="4.0" fill="none" stroke-linejoin="round" stroke-linecap="round"/><path d="M112.0 407.2L126.0 407.9L140.4 408.6L160.0 409.3L166.2 405.7L171.6 401.0L173.0 399.1" stroke="#000000" stroke-width="4.0" fill="none" stroke-linejoin="round" stroke-linecap="round"/><path d="M220.0 391.6L232.6 393.7L233.0 393.8" stroke="#000000" stroke-width="4.0" fill="none" stroke-linejoin="round" stroke-linecap="round"/><path d="M337.0 356.9L344.9 354.3L352.1 353.4L361.1 353.4L368.3 349.7L375.5 344.3L381.0 341.6" stroke="#000000" stroke-width="4.0" fill="none" stroke-linejoin="round" stroke-linecap="round"/><path d="M505.0 341.3L506.5 343.4L511.9 342.4L517.4 344.3L521.0 343.4" stroke="#000000" stroke-width="4.0" fill="none" stroke-linejoin="round" stroke-linecap="round"/><path d="M564.0 352.4L564.2 352.4L567.2 348.0L570.8 345.3L574.4 346.2L578.0 337.2L581.6 344.4L585.2 346.2L588.8 340.8L591.5 342.6L594.3 355.2L597.9 361.5L601.5 357.9L606.9 356.1L612.3 355.2L615.9 358.8L621.3 366.1L628.5 370.6L635.7 369.7L642.9 374.2L651.2 382.1L656.0 382.0L662.0 386.5" stroke="#000000" stroke-width="4.0" fill="none" stroke-linejoin="round" stroke-linecap="round"/><path d="M772.0 401.8L774.2 402.6L781.0 405.4" stroke="#000000" stroke-width="4.0" fill="none" stroke-linejoin="round" stroke-linecap="round"/></g>
<g><path d="M42.0 425.8L61.5 427.3L83.0 425.4L108.8 423.7L140.4 423.4L154.7 422.2L160.0 420.8L165.0 416.0L173.4 408.0L181.3 402.0L186.3 400.0L189.1 400.6L203.0 401.5L220.0 406.0L245.2 411.5L257.8 405.0L266.2 396.0L276.8 390.0L280.0 388.5L290.0 388.5L303.4 388.5L312.4 389.0L325.1 379.5L352.1 375.9L370.1 372.3L388.2 363.3L406.2 358.8L420.0 358.5L438.0 356.5L456.0 356.0L474.0 358.0L499.3 357.2L513.7 362.3L528.2 367.7L546.2 373.1L560.0 378.7L578.0 379.3L590.6 381.0L603.3 387.7L614.1 394.0L632.1 401.2L650.1 405.7L668.2 409.5L686.0 412.0L700.0 413.0L722.0 416.0L748.1 421.0L768.6 419.0L781.0 423.0" stroke="#ff0000" stroke-width="1.2" fill="none" stroke-linejoin="round" stroke-linecap="round"/><path d="M42.0 426.5L61.5 429.1L83.0 428.0L108.8 426.8L140.4 427.3L160.0 427.3L165.6 424.5L173.4 419.0L181.3 409.0L189.1 403.8L196.9 405.5L206.3 407.8L217.2 412.0L228.1 415.0L240.6 416.0L246.9 413.5L253.1 411.0L259.4 405.5L265.6 400.0L275.0 395.2L280.0 392.5L290.8 393.0L303.4 391.2L312.4 393.5L319.7 388.5L326.9 383.0L334.1 384.3L343.1 383.1L348.5 383.5L355.0 382.5L366.5 379.5L371.9 377.0L381.0 371.5L386.4 366.0L397.2 362.5L404.4 358.0L410.7 352.0L415.0 355.5L418.8 363.5L424.0 360.0L430.0 359.6L437.1 353.4L443.0 354.3L451.5 356.0L457.0 360.0L463.3 351.6L468.0 355.2L474.1 354.3L479.5 358.8L484.0 362.4L490.3 357.0L494.0 358.0L499.3 352.5L503.0 361.5L506.5 369.5L513.7 370.6L519.0 371.5L524.6 369.7L528.2 365.1L533.6 357.9L537.2 365.0L539.9 368.0L544.4 371.5L549.8 372.3L557.0 374.1L560.0 377.0L569.0 373.5L574.4 372.6L579.8 365.4L583.4 373.5L590.6 369.9L594.3 377.9L597.9 386.1L603.3 384.3L614.1 381.6L617.7 384.3L623.1 391.5L628.5 393.3L635.7 394.2L642.9 396.0L650.1 401.4L657.4 404.1L661.4 407.0L671.7 411.1L677.3 412.9L688.0 411.1L701.5 413.9L714.5 416.6L733.2 421.3L751.8 423.2L768.6 420.9L781.0 425.0" stroke="#0066ff" stroke-width="1.2" fill="none" stroke-linejoin="round" stroke-linecap="round"/><path d="M42.0 426.5L61.5 429.1L83.0 428.0L108.8 426.8L140.4 427.3L160.0 427.3L165.6 424.5L173.4 419.0L176.0 415.7" stroke="#0066ff" stroke-width="4.0" fill="none" stroke-linejoin="round" stroke-linecap="round"/><path d="M216.0 411.5L217.2 412.0L228.1 415.0L240.6 416.0L244.0 414.7" stroke="#0066ff" stroke-width="4.0" fill="none" stroke-linejoin="round" stroke-linecap="round"/><path d="M332.0 383.9L334.1 384.3L343.1 383.1L348.5 383.5L355.0 382.5L366.5 379.5L371.9 377.0L381.0 371.5L386.0 366.4" stroke="#0066ff" stroke-width="4.0" fill="none" stroke-linejoin="round" stroke-linecap="round"/><path d="M505.0 366.1L506.5 369.5L513.7 370.6L519.0 371.5L524.6 369.7L525.0 369.2" stroke="#0066ff" stroke-width="4.0" fill="none" stroke-linejoin="round" stroke-linecap="round"/><path d="M560.0 377.0L569.0 373.5L574.4 372.6L579.8 365.4L583.4 373.5L590.6 369.9L594.3 377.9L597.9 386.1L603.3 384.3L614.1 381.6L617.7 384.3L623.1 391.5L628.5 393.3L635.7 394.2L642.9 396.0L650.1 401.4L657.4 404.1L661.4 407.0L662.0 407.2" stroke="#0066ff" stroke-width="4.0" fill="none" stroke-linejoin="round" stroke-linecap="round"/><path d="M42.0 425.5L60.0 425.8L83.0 425.5L107.4 425.1L120.3 425.8L140.4 426.3L153.3 427.3L160.0 425.8L165.6 422.5L173.4 417.0L181.3 406.9L189.1 402.2L196.9 403.8L206.3 406.1L217.2 410.0L220.3 411.6L228.1 412.8L235.9 413.9L240.6 413.9L246.9 411.6L253.1 409.2L259.4 403.8L265.6 398.3L275.0 393.6L280.0 390.5L290.8 391.2L303.4 389.4L312.4 391.8L319.7 386.7L326.9 381.3L334.1 382.2L343.1 379.5L348.5 381.0L355.0 380.5L362.9 378.6L366.5 377.7L371.9 374.1L381.0 368.7L388.2 364.2L397.2 361.5L404.4 357.9L410.7 353.4L415.0 357.0L418.8 362.4L424.0 359.0L430.0 358.8L437.1 352.4L443.0 353.3L451.5 355.0L457.0 358.7L463.3 350.6L468.0 354.2L474.1 353.3L479.5 357.8L484.0 361.4L490.3 356.0L494.0 357.0L499.3 351.5L503.0 360.5L506.5 367.7L513.7 368.6L519.0 369.5L524.6 367.7L528.2 364.1L533.6 356.9L537.2 364.0L539.9 366.8L544.4 370.4L549.8 371.3L557.0 373.1L560.0 375.1L569.0 371.5L574.4 370.6L579.8 363.4L583.4 371.5L587.0 370.6L590.6 367.9L594.3 375.9L597.9 384.1L603.3 382.3L608.7 380.5L614.1 379.6L617.7 382.3L623.1 389.5L628.5 391.3L635.7 392.2L642.9 394.0L650.1 399.4L657.4 402.1L661.4 405.4L671.7 410.1L677.3 411.9L688.0 410.1L701.5 412.9L714.5 415.6L733.2 420.3L751.8 422.2L768.6 419.9L781.0 424.0" stroke="#000000" stroke-width="1.2" fill="none" stroke-linejoin="round" stroke-linecap="round"/><path d="M108.0 425.1L120.3 425.8L140.4 426.3L153.3 427.3L160.0 425.8L165.6 422.5L173.4 417.0L176.0 413.7" stroke="#000000" stroke-width="4.0" fill="none" stroke-linejoin="round" stroke-linecap="round"/><path d="M217.0 409.9L217.2 410.0L220.3 411.6L228.1 412.8L235.9 413.9L240.6 413.9L241.0 413.8" stroke="#000000" stroke-width="4.0" fill="none" stroke-linejoin="round" stroke-linecap="round"/><path d="M334.0 382.2L334.1 382.2L343.1 379.5L348.0 380.9" stroke="#000000" stroke-width="4.0" fill="none" stroke-linejoin="round" stroke-linecap="round"/><path d="M366.0 377.8L366.5 377.7L371.9 374.1L372.0 374.0" stroke="#000000" stroke-width="4.0" fill="none" stroke-linejoin="round" stroke-linecap="round"/><path d="M505.0 364.6L506.5 367.7L513.7 368.6L519.0 369.5L524.6 367.7L525.0 367.3" stroke="#000000" stroke-width="4.0" fill="none" stroke-linejoin="round" stroke-linecap="round"/><path d="M539.0 365.9L539.9 366.8L544.4 370.4L545.0 370.5" stroke="#000000" stroke-width="4.0" fill="none" stroke-linejoin="round" stroke-linecap="round"/><path d="M562.0 374.3L569.0 371.5L574.4 370.6L579.8 363.4L583.4 371.5L587.0 370.6L590.6 367.9L594.3 375.9L597.9 384.1L603.3 382.3L608.7 380.5L614.1 379.6L617.7 382.3L623.1 389.5L628.5 391.3L635.7 392.2L642.9 394.0L650.1 399.4L657.4 402.1L661.0 405.1" stroke="#000000" stroke-width="4.0" fill="none" stroke-linejoin="round" stroke-linecap="round"/></g>
<g><path d="M42.0 435.1L68.7 435.9L97.3 434.0L126.0 432.6L160.0 431.6L165.6 428.0L173.4 423.0L181.3 416.0L189.1 413.1L203.0 414.5L212.5 417.5L240.6 423.3L255.7 418.9L262.5 413.5L266.2 409.4L276.8 404.2L280.0 403.0L295.6 403.0L311.3 403.8L326.9 396.0L342.5 393.6L352.1 392.1L358.1 391.0L370.1 387.5L388.2 381.3L406.2 375.0L420.0 376.5L438.0 372.0L456.0 372.5L474.0 373.0L499.3 373.1L513.7 377.0L528.2 383.0L546.2 386.5L557.6 392.6L575.3 392.6L593.0 395.0L610.5 403.2L628.2 407.6L645.8 413.0L663.4 418.7L680.0 422.8L700.0 425.5L718.0 428.0L733.0 431.0L748.0 432.5L761.0 431.0L781.0 433.0" stroke="#ff0000" stroke-width="1.2" fill="none" stroke-linejoin="round" stroke-linecap="round"/><path d="M42.0 435.9L61.5 438.0L83.0 436.9L106.0 436.3L126.0 436.6L160.0 438.0L165.6 435.0L173.4 431.0L181.3 421.0L189.1 416.5L196.9 417.5L212.5 422.0L228.1 426.0L240.6 428.5L246.9 425.0L253.0 422.0L262.5 416.5L271.9 411.5L280.0 405.5L295.6 405.0L311.3 406.5L326.9 398.5L333.1 397.5L342.5 398.8L352.1 397.5L361.3 396.5L370.1 394.2L377.3 390.0L386.4 383.1L391.8 380.0L402.6 375.5L410.7 372.0L415.0 375.5L418.8 379.0L429.0 378.0L438.0 369.5L451.5 373.5L457.0 377.0L463.3 369.0L474.1 371.0L484.0 379.0L490.3 374.0L499.3 370.0L503.0 378.0L506.5 385.0L513.7 386.0L519.2 388.0L524.6 386.0L528.2 383.0L533.6 375.0L540.8 384.0L546.2 387.5L555.9 387.5L562.9 392.0L575.3 388.5L580.9 380.5L585.0 389.3L591.5 384.9L598.2 398.2L601.7 400.8L614.1 396.4L622.9 405.2L629.9 407.9L645.8 410.5L657.3 416.3L667.0 420.5L673.5 424.5L684.7 423.5L707.0 427.5L733.2 432.0L748.1 433.8L768.6 431.0L781.0 434.0" stroke="#0066ff" stroke-width="1.2" fill="none" stroke-linejoin="round" stroke-linecap="round"/><path d="M42.0 435.9L61.5 438.0L83.0 436.9L106.0 436.3L126.0 436.6L160.0 438.0L165.6 435.0L173.4 431.0L174.0 430.2" stroke="#0066ff" stroke-width="4.0" fill="none" stroke-linejoin="round" stroke-linecap="round"/><path d="M216.0 422.9L228.1 426.0L240.6 428.5L245.0 426.1" stroke="#0066ff" stroke-width="4.0" fill="none" stroke-linejoin="round" stroke-linecap="round"/><path d="M290.0 405.2L295.6 405.0L311.3 406.5L326.9 398.5L333.1 397.5L342.5 398.8L352.1 397.5L361.3 396.5L370.1 394.2L377.3 390.0L386.4 383.1L387.0 382.8" stroke="#0066ff" stroke-width="4.0" fill="none" stroke-linejoin="round" stroke-linecap="round"/><path d="M505.0 382.0L506.5 385.0L513.7 386.0L519.2 388.0L524.6 386.0L525.0 385.7" stroke="#0066ff" stroke-width="4.0" fill="none" stroke-linejoin="round" stroke-linecap="round"/><path d="M570.0 390.0L575.3 388.5L580.9 380.5L585.0 389.3L591.5 384.9L598.2 398.2L601.7 400.8L614.1 396.4L622.9 405.2L629.9 407.9L645.8 410.5L657.3 416.3L660.0 417.5" stroke="#0066ff" stroke-width="4.0" fill="none" stroke-linejoin="round" stroke-linecap="round"/><path d="M42.0 435.5L68.7 436.0L97.3 435.5L114.6 435.1L130.3 434.4L140.4 436.6L150.0 435.8L160.0 435.1L165.6 432.7L173.4 428.8L181.3 418.6L189.1 414.7L196.9 415.5L212.5 419.4L217.2 421.7L228.1 423.3L240.6 425.6L246.9 422.5L253.0 420.5L262.5 414.7L271.9 410.0L280.0 403.8L295.6 403.0L309.7 405.3L312.4 404.7L326.9 396.7L333.0 397.0L339.5 395.7L344.1 395.2L352.1 395.2L359.3 395.7L366.5 393.9L370.1 392.0L377.3 387.6L384.6 382.2L391.8 378.6L402.6 374.1L406.2 372.3L410.7 370.5L415.0 374.0L418.8 377.7L420.0 375.8L429.0 376.7L438.0 367.7L443.4 370.4L451.5 372.2L457.0 375.8L463.3 367.7L468.0 371.3L474.1 369.5L484.0 377.6L490.3 372.2L499.3 368.6L503.0 376.7L506.5 383.0L513.7 383.9L519.2 385.7L524.6 383.9L528.2 381.2L533.6 373.1L536.3 374.9L540.8 382.1L546.2 385.7L549.0 386.5L555.9 385.6L558.8 389.3L562.9 390.0L567.0 388.5L575.3 386.5L580.9 378.5L585.0 387.3L587.6 389.1L591.5 382.9L594.7 387.3L598.2 396.2L601.7 398.8L607.0 396.2L614.1 394.4L617.7 396.2L622.9 403.2L629.9 405.9L637.0 405.0L645.8 408.5L652.9 412.9L657.3 414.3L660.5 416.6L667.0 419.1L673.5 423.1L684.7 422.2L695.9 425.0L707.0 426.0L718.3 427.8L733.2 430.6L748.1 432.4L761.1 430.6L768.6 429.6L781.0 432.4" stroke="#000000" stroke-width="1.2" fill="none" stroke-linejoin="round" stroke-linecap="round"/><path d="M106.0 435.3L114.6 435.1L130.3 434.4L140.4 436.6L150.0 435.8L160.0 435.1L165.6 432.7L173.4 428.8L174.0 428.0" stroke="#000000" stroke-width="4.0" fill="none" stroke-linejoin="round" stroke-linecap="round"/><path d="M217.0 421.6L217.2 421.7L228.1 423.3L240.6 425.6L241.0 425.4" stroke="#000000" stroke-width="4.0" fill="none" stroke-linejoin="round" stroke-linecap="round"/><path d="M339.0 395.8L339.5 395.7L344.1 395.2L352.1 395.2L359.3 395.7L366.5 393.9L370.0 392.1" stroke="#000000" stroke-width="4.0" fill="none" stroke-linejoin="round" stroke-linecap="round"/><path d="M506.0 382.1L506.5 383.0L513.7 383.9L519.2 385.7L524.6 383.9L525.0 383.6" stroke="#000000" stroke-width="4.0" fill="none" stroke-linejoin="round" stroke-linecap="round"/><path d="M536.0 374.7L536.3 374.9L540.8 382.1L546.0 385.6" stroke="#000000" stroke-width="4.0" fill="none" stroke-linejoin="round" stroke-linecap="round"/><path d="M570.0 387.8L575.3 386.5L580.9 378.5L585.0 387.3L587.6 389.1L591.5 382.9L594.7 387.3L598.2 396.2L601.7 398.8L607.0 396.2L614.1 394.4L617.7 396.2L622.9 403.2L629.9 405.9L637.0 405.0L645.8 408.5L652.9 412.9L657.3 414.3L660.0 416.2" stroke="#000000" stroke-width="4.0" fill="none" stroke-linejoin="round" stroke-linecap="round"/></g>
<g><path d="M42.0 446.3L68.7 446.9L97.3 445.5L126.0 444.5L160.0 442.3L167.0 440.0L175.0 435.0L181.3 431.5L189.1 430.5L203.0 432.5L212.5 434.8L243.8 439.0L255.7 433.6L262.5 431.0L271.9 427.0L280.0 422.5L311.3 423.3L326.9 416.3L342.5 413.9L358.1 413.1L373.8 408.4L389.4 403.8L410.0 399.8L427.6 399.7L445.3 397.0L462.9 397.8L480.5 398.3L501.7 398.8L515.8 403.2L533.4 405.9L540.0 407.6L557.6 412.0L575.3 413.8L592.9 416.5L610.5 420.8L628.2 426.0L645.8 431.4L663.4 435.8L680.0 438.5L700.0 438.5L718.0 440.0L733.0 442.0L748.0 443.6L770.0 441.7L781.0 445.0" stroke="#ff0000" stroke-width="1.2" fill="none" stroke-linejoin="round" stroke-linecap="round"/><path d="M42.0 447.0L60.0 447.5L66.0 448.5L80.0 448.5L97.3 448.0L110.0 447.5L126.0 447.5L143.0 448.0L152.8 447.5L166.0 446.5L172.0 443.0L180.0 437.5L181.3 436.0L189.1 433.0L196.9 433.5L212.5 436.5L218.8 438.0L228.1 439.5L235.2 440.5L243.8 440.5L251.6 438.0L262.5 433.3L271.9 428.5L280.0 424.0L295.6 424.5L311.3 424.8L320.6 422.5L326.9 418.0L333.1 417.0L342.5 418.6L350.3 417.0L361.3 416.3L370.6 413.9L380.0 410.8L387.8 406.1L392.5 403.8L401.9 401.5L410.0 400.0L420.6 403.0L432.9 401.0L436.5 394.0L447.0 395.0L457.6 397.5L461.1 401.0L465.5 394.0L477.0 395.0L485.8 402.0L491.1 397.5L501.7 395.0L505.2 401.0L507.0 406.5L510.5 409.5L515.8 408.7L521.1 410.5L526.4 408.5L531.7 404.5L536.1 397.0L540.5 403.0L548.8 408.5L557.6 407.5L562.9 412.0L573.5 409.5L582.3 403.5L585.8 410.5L592.0 408.7L600.0 419.3L605.2 421.0L614.1 418.4L622.9 424.6L631.7 427.3L645.8 429.0L654.6 432.5L661.7 434.0L670.5 437.0L686.6 438.3L702.0 438.3L714.5 440.0L733.2 442.7L748.1 444.6L770.4 442.7L781.0 446.5" stroke="#0066ff" stroke-width="1.2" fill="none" stroke-linejoin="round" stroke-linecap="round"/><path d="M66.0 448.5L80.0 448.5L97.3 448.0L110.0 447.5L126.0 447.5L143.0 448.0L152.8 447.5L166.0 446.5L172.0 443.0L174.0 441.6" stroke="#0066ff" stroke-width="4.0" fill="none" stroke-linejoin="round" stroke-linecap="round"/><path d="M212.0 436.4L212.5 436.5L218.8 438.0L228.1 439.5L235.2 440.5L243.8 440.5L247.0 439.5" stroke="#0066ff" stroke-width="4.0" fill="none" stroke-linejoin="round" stroke-linecap="round"/><path d="M333.0 417.0L333.1 417.0L342.5 418.6L350.3 417.0L361.3 416.3L370.6 413.9L380.0 410.8L387.8 406.1L388.0 406.0" stroke="#0066ff" stroke-width="4.0" fill="none" stroke-linejoin="round" stroke-linecap="round"/><path d="M507.0 406.5L510.5 409.5L515.8 408.7L521.1 410.5L526.4 408.5L527.0 408.0" stroke="#0066ff" stroke-width="4.0" fill="none" stroke-linejoin="round" stroke-linecap="round"/><path d="M572.0 409.9L573.5 409.5L582.3 403.5L585.8 410.5L592.0 408.7L600.0 419.3L605.2 421.0L614.1 418.4L622.9 424.6L631.7 427.3L645.8 429.0L654.6 432.5L661.7 434.0L662.0 434.1" stroke="#0066ff" stroke-width="4.0" fill="none" stroke-linejoin="round" stroke-linecap="round"/><path d="M42.0 446.5L60.0 446.8L80.0 446.5L97.3 446.2L114.6 446.0L120.3 446.0L135.6 445.1L143.2 447.0L152.8 445.6L166.2 444.6L172.0 440.8L180.5 436.0L181.3 434.2L189.1 431.1L196.9 432.0L212.5 435.0L218.8 436.6L228.1 437.8L235.2 438.9L243.8 438.9L251.6 436.6L262.5 431.9L271.9 427.2L280.0 422.5L289.4 421.7L295.6 423.3L305.0 422.5L312.8 424.1L320.6 421.0L330.0 415.5L336.0 415.5L342.5 414.7L351.9 413.9L364.4 413.1L373.8 410.0L383.1 406.9L389.4 402.2L392.5 401.4L401.9 399.8L406.6 396.7L410.0 397.0L414.8 396.2L420.6 401.5L425.9 398.8L432.9 399.7L436.5 392.6L440.0 391.7L443.5 394.4L447.0 393.5L452.3 395.3L457.6 396.2L461.1 399.7L465.5 392.6L470.0 395.3L477.0 393.5L480.5 395.3L485.8 400.6L491.1 396.2L496.4 398.0L501.7 393.5L505.2 399.7L507.0 405.0L510.5 407.6L515.8 406.7L521.1 408.5L526.4 406.7L531.7 403.2L536.1 395.3L540.5 401.5L545.8 406.7L548.8 406.7L557.6 405.9L562.9 410.3L568.0 409.5L573.5 407.6L578.8 405.9L582.3 401.5L585.8 408.5L588.5 410.3L592.0 406.7L594.7 409.4L600.0 417.3L605.2 419.1L614.1 416.4L617.7 417.3L622.9 422.6L631.7 425.3L640.0 424.4L645.8 427.0L654.6 430.5L661.7 432.3L670.5 435.8L680.0 437.3L686.6 437.1L692.0 436.2L702.0 437.1L714.5 438.9L733.2 441.7L748.1 443.6L761.0 441.7L770.4 441.7L781.0 445.5" stroke="#000000" stroke-width="1.2" fill="none" stroke-linejoin="round" stroke-linecap="round"/><path d="M114.0 446.0L114.6 446.0L120.3 446.0L121.0 446.0" stroke="#000000" stroke-width="4.0" fill="none" stroke-linejoin="round" stroke-linecap="round"/><path d="M134.0 445.2L135.6 445.1L143.2 447.0L152.8 445.6L166.2 444.6L168.0 443.4" stroke="#000000" stroke-width="4.0" fill="none" stroke-linejoin="round" stroke-linecap="round"/><path d="M219.0 436.6L228.1 437.8L235.2 438.9L236.0 438.9" stroke="#000000" stroke-width="4.0" fill="none" stroke-linejoin="round" stroke-linecap="round"/><path d="M390.0 402.0L392.5 401.4L401.9 399.8L406.6 396.7L410.0 397.0" stroke="#000000" stroke-width="4.0" fill="none" stroke-linejoin="round" stroke-linecap="round"/><path d="M436.0 393.6L436.5 392.6L440.0 391.7L443.5 394.4L447.0 393.5L448.0 393.8" stroke="#000000" stroke-width="4.0" fill="none" stroke-linejoin="round" stroke-linecap="round"/><path d="M509.0 406.5L510.5 407.6L515.8 406.7L521.1 408.5L526.4 406.7L527.0 406.3" stroke="#000000" stroke-width="4.0" fill="none" stroke-linejoin="round" stroke-linecap="round"/><path d="M534.0 399.1L536.1 395.3L538.0 398.0" stroke="#000000" stroke-width="4.0" fill="none" stroke-linejoin="round" stroke-linecap="round"/><path d="M572.0 408.1L573.5 407.6L578.8 405.9L582.3 401.5L585.8 408.5L588.5 410.3L592.0 406.7L594.7 409.4L600.0 417.3L605.2 419.1L614.1 416.4L617.7 417.3L622.9 422.6L631.7 425.3L640.0 424.4L645.8 427.0L654.6 430.5L661.7 432.3L662.0 432.4" stroke="#000000" stroke-width="4.0" fill="none" stroke-linejoin="round" stroke-linecap="round"/></g>
<g><path d="M42.0 453.8L50.0 453.0L56.7 452.5L65.0 454.2L75.0 455.0L86.0 452.1L92.0 453.8L98.5 453.0L110.0 453.0L126.0 453.5L140.0 452.0L160.0 451.5L170.0 449.5L175.0 449.0L181.3 445.2L192.2 441.3L201.6 441.3L212.5 444.4L220.3 446.0L235.9 445.2L243.8 446.7L259.4 439.7L280.0 435.8L295.6 434.2L311.3 435.0L326.9 431.1L342.5 428.8L351.9 426.4L361.3 428.8L373.8 424.8L389.4 421.7L410.0 417.3L427.6 418.2L445.3 414.7L480.5 416.4L503.5 415.6L515.8 420.0L533.4 420.8L550.0 423.5L575.3 425.0L592.9 426.5L610.5 430.0L628.0 434.0L645.8 438.0L663.4 441.0L680.0 443.5L700.0 445.5L714.5 447.3L737.0 450.5L752.0 449.5L768.6 449.2L781.0 452.5" stroke="#ff0000" stroke-width="1.2" fill="none" stroke-linejoin="round" stroke-linecap="round"/><path d="M42.0 453.5L50.0 452.5L55.0 454.5L62.0 455.0L70.0 455.5L76.0 455.5L86.0 454.0L94.0 453.5L110.0 453.5L126.0 453.0L143.0 452.0L160.0 451.8L170.0 451.5L175.0 449.5L181.3 444.8L189.1 442.8L197.0 443.5L201.6 444.2L205.0 446.0L209.4 449.1L215.0 445.0L218.8 444.4L237.5 445.9L243.8 447.5L262.5 439.0L280.0 437.3L295.6 435.0L311.3 436.6L326.9 432.7L331.6 431.1L339.4 431.9L351.9 428.4L364.4 429.5L372.2 426.4L383.1 424.1L389.4 422.5L410.0 416.3L420.6 420.0L431.2 417.3L439.1 412.9L445.3 414.7L454.1 414.7L460.3 417.3L466.4 413.8L477.0 413.8L485.8 417.3L492.8 413.8L501.7 412.9L507.0 421.7L510.5 423.5L519.3 424.4L522.9 423.5L531.7 420.0L535.2 416.4L540.5 419.0L550.0 423.0L557.6 422.6L566.0 424.4L575.3 423.5L582.3 420.0L587.6 425.3L592.9 421.7L596.4 423.5L600.0 433.2L607.0 431.4L615.8 427.9L621.0 428.8L628.2 434.1L635.2 437.6L645.8 439.4L652.9 440.2L659.9 441.1L677.3 446.4L695.9 445.5L714.5 448.3L733.2 450.1L744.4 447.3L751.8 450.1L768.6 449.2L781.0 451.0" stroke="#0066ff" stroke-width="1.2" fill="none" stroke-linejoin="round" stroke-linecap="round"/><path d="M60.0 454.9L62.0 455.0L70.0 455.5L76.0 455.5L77.0 455.4" stroke="#0066ff" stroke-width="4.0" fill="none" stroke-linejoin="round" stroke-linecap="round"/><path d="M93.0 453.6L94.0 453.5L110.0 453.5L126.0 453.0L143.0 452.0L160.0 451.8L170.0 451.5L175.0 449.5L176.0 448.8" stroke="#0066ff" stroke-width="4.0" fill="none" stroke-linejoin="round" stroke-linecap="round"/><path d="M185.0 443.9L189.1 442.8L197.0 443.5L201.0 444.1" stroke="#0066ff" stroke-width="4.0" fill="none" stroke-linejoin="round" stroke-linecap="round"/><path d="M218.0 444.5L218.8 444.4L237.5 445.9L238.0 446.0" stroke="#0066ff" stroke-width="4.0" fill="none" stroke-linejoin="round" stroke-linecap="round"/><path d="M372.0 426.5L372.2 426.4L383.0 424.1" stroke="#0066ff" stroke-width="4.0" fill="none" stroke-linejoin="round" stroke-linecap="round"/><path d="M509.0 422.7L510.5 423.5L519.3 424.4L522.9 423.5L528.0 421.5" stroke="#0066ff" stroke-width="4.0" fill="none" stroke-linejoin="round" stroke-linecap="round"/><path d="M575.0 423.5L575.3 423.5L582.3 420.0L587.6 425.3L592.9 421.7L596.4 423.5L598.0 427.8" stroke="#0066ff" stroke-width="4.0" fill="none" stroke-linejoin="round" stroke-linecap="round"/><path d="M606.0 431.7L607.0 431.4L615.8 427.9L621.0 428.8L628.2 434.1L635.2 437.6L645.8 439.4L652.9 440.2L659.9 441.1L660.0 441.1" stroke="#0066ff" stroke-width="4.0" fill="none" stroke-linejoin="round" stroke-linecap="round"/></g>
<g><path d="M42.0 454.5L60.0 455.5L83.0 455.0L110.0 454.5L126.0 455.0L140.4 454.0L160.0 453.5L175.0 451.0L190.0 446.0L197.0 444.5L212.5 447.5L235.0 447.5L255.0 447.0L262.5 441.3L280.0 438.5L295.6 436.0L305.0 440.5L320.0 438.0L334.7 435.8L351.9 433.4L361.3 432.7L367.5 435.8L376.9 432.7L389.4 428.8L410.0 425.6L424.0 428.8L445.3 424.4L462.9 427.0L477.0 423.5L498.2 425.3L505.0 424.4L515.8 426.1L533.4 427.9L542.3 429.7L550.0 432.3L575.3 433.0L592.9 435.0L610.5 442.0L628.2 440.2L645.8 442.7L663.4 445.0L680.0 447.3L700.0 448.0L714.5 449.0L736.9 452.0L752.0 451.0L768.6 450.0L781.0 452.6" stroke="#ff0000" stroke-width="1.2" fill="none" stroke-linejoin="round" stroke-linecap="round"/><path d="M42.0 455.0L50.0 456.0L62.0 456.5L76.0 456.0L90.0 455.0L110.0 455.0L126.0 454.8L140.0 454.5L160.0 454.0L175.0 452.0L185.0 449.5L197.0 447.5L205.0 449.0L215.0 451.0L230.0 451.0L245.0 450.5L262.5 443.0L280.0 440.3L295.6 436.6L306.6 441.3L320.0 439.5L331.6 437.3L344.1 438.9L351.9 435.8L361.3 434.2L367.5 436.6L376.9 433.4L389.4 429.5L398.2 427.2L403.4 428.8L410.0 426.1L417.0 426.1L425.9 429.7L436.5 425.3L445.3 423.5L454.0 425.3L462.9 427.9L471.7 424.4L480.5 423.5L489.4 426.1L498.2 425.3L505.2 427.0L510.5 429.7L515.8 431.4L517.6 432.3L522.0 434.0L526.4 434.1L531.7 429.7L538.7 426.1L544.0 429.7L550.0 432.3L557.6 431.5L575.3 430.5L578.8 432.3L584.1 428.8L589.4 431.4L594.7 431.4L601.7 434.1L614.1 436.7L628.2 435.8L638.8 437.6L645.8 436.7L656.4 441.1L668.0 444.0L680.0 447.3L695.9 448.2L714.5 450.0L736.9 452.9L752.0 452.0L768.6 449.2L774.0 452.5L781.0 455.7" stroke="#0066ff" stroke-width="1.2" fill="none" stroke-linejoin="round" stroke-linecap="round"/><path d="M517.0 432.0L517.6 432.3L522.0 434.0L526.4 434.1L527.0 433.6" stroke="#0066ff" stroke-width="4.0" fill="none" stroke-linejoin="round" stroke-linecap="round"/><path d="M578.0 431.9L578.8 432.3L584.1 428.8L589.4 431.4L594.7 431.4L595.0 431.5" stroke="#0066ff" stroke-width="4.0" fill="none" stroke-linejoin="round" stroke-linecap="round"/><path d="M612.0 436.3L614.1 436.7L628.2 435.8L638.8 437.6L645.8 436.7L656.4 441.1L657.0 441.2" stroke="#0066ff" stroke-width="4.0" fill="none" stroke-linejoin="round" stroke-linecap="round"/></g></g>
<g class="t">
<rect x="41.5" y="30.5" width="739.5" height="432.8" fill="none" stroke="#666666" stroke-width="1.25"/>
<text x="41.50" y="27.3" font-size="13.2" text-anchor="middle">0</text>
<text x="92.15" y="27.3" font-size="13.2" text-anchor="middle">25</text>
<text x="142.80" y="27.3" font-size="13.2" text-anchor="middle">50</text>
<text x="193.45" y="27.3" font-size="13.2" text-anchor="middle">75</text>
<text x="244.10" y="27.3" font-size="13.2" text-anchor="middle">100</text>
<text x="294.75" y="27.3" font-size="13.2" text-anchor="middle">125</text>
<text x="345.40" y="27.3" font-size="13.2" text-anchor="middle">150</text>
<text x="396.05" y="27.3" font-size="13.2" text-anchor="middle">175</text>
<text x="446.71" y="27.3" font-size="13.2" text-anchor="middle">200</text>
<text x="497.36" y="27.3" font-size="13.2" text-anchor="middle">225</text>
<text x="548.01" y="27.3" font-size="13.2" text-anchor="middle">250</text>
<text x="598.66" y="27.3" font-size="13.2" text-anchor="middle">275</text>
<text x="649.31" y="27.3" font-size="13.2" text-anchor="middle">300</text>
<text x="699.96" y="27.3" font-size="13.2" text-anchor="middle">325</text>
<text x="750.61" y="27.3" font-size="13.2" text-anchor="middle">350</text>
<text x="781.00" y="27.3" font-size="13.2" text-anchor="middle">365</text>
<text x="37.8" y="441.50" font-size="13.2" text-anchor="end">5</text>
<text x="37.8" y="397.56" font-size="13.2" text-anchor="end">10</text>
<text x="37.8" y="353.61" font-size="13.2" text-anchor="end">15</text>
<text x="37.8" y="309.67" font-size="13.2" text-anchor="end">20</text>
<text x="37.8" y="265.72" font-size="13.2" text-anchor="end">25</text>
<text x="37.8" y="221.78" font-size="13.2" text-anchor="end">30</text>
<text x="37.8" y="177.83" font-size="13.2" text-anchor="end">35</text>
<text x="37.8" y="133.89" font-size="13.2" text-anchor="end">40</text>
<text x="37.8" y="89.94" font-size="13.2" text-anchor="end">45</text>
<text x="37.8" y="46.00" font-size="13.2" text-anchor="end">50</text>
<text x="73.92" y="479.6" font-size="13.2" text-anchor="middle">Jan</text>
<text x="133.68" y="479.6" font-size="13.2" text-anchor="middle">Feb</text>
<text x="193.45" y="479.6" font-size="13.2" text-anchor="middle">Mar</text>
<text x="255.25" y="479.6" font-size="13.2" text-anchor="middle">Apr</text>
<text x="317.04" y="479.6" font-size="13.2" text-anchor="middle">May</text>
<text x="378.83" y="479.6" font-size="13.2" text-anchor="middle">Jun</text>
<text x="440.63" y="479.6" font-size="13.2" text-anchor="middle">Jul</text>
<text x="503.43" y="479.6" font-size="13.2" text-anchor="middle">Aug</text>
<text x="565.23" y="479.6" font-size="13.2" text-anchor="middle">Sep</text>
<text x="627.02" y="479.6" font-size="13.2" text-anchor="middle">Oct</text>
<text x="688.82" y="479.6" font-size="13.2" text-anchor="middle">Nov</text>
<text x="750.61" y="479.6" font-size="13.2" text-anchor="middle">Dec</text>
<path d="M41.50 30.5v4M92.15 30.5v4M142.80 30.5v4M193.45 30.5v4M244.10 30.5v4M294.75 30.5v4M345.40 30.5v4M396.05 30.5v4M446.71 30.5v4M497.36 30.5v4M548.01 30.5v4M598.66 30.5v4M649.31 30.5v4M699.96 30.5v4M750.61 30.5v4M781.00 30.5v4M41.5 436.80h4M781.0 436.80h-4M41.5 392.86h4M781.0 392.86h-4M41.5 348.91h4M781.0 348.91h-4M41.5 304.97h4M781.0 304.97h-4M41.5 261.02h4M781.0 261.02h-4M41.5 217.08h4M781.0 217.08h-4M41.5 173.13h4M781.0 173.13h-4M41.5 129.19h4M781.0 129.19h-4M41.5 85.24h4M781.0 85.24h-4M41.5 41.30h4M781.0 41.30h-4M73.92 463.3v-4M106.33 463.3v-4M133.68 463.3v-4M163.06 463.3v-4M193.45 463.3v-4M225.87 463.3v-4M255.25 463.3v-4M286.65 463.3v-4M317.04 463.3v-4M349.46 463.3v-4M378.83 463.3v-4M410.24 463.3v-4M440.63 463.3v-4M473.04 463.3v-4M503.43 463.3v-4M535.85 463.3v-4M565.23 463.3v-4M596.63 463.3v-4M627.02 463.3v-4M659.44 463.3v-4M688.82 463.3v-4M720.22 463.3v-4M750.61 463.3v-4" stroke="#666666" stroke-width="1" fill="none"/>
<text x="417.5" y="11.1" font-size="13.2" text-anchor="middle">Day</text>
<text x="411" y="496.7" font-size="14.5" text-anchor="middle">Month</text>
<text transform="translate(14.2,243.3) rotate(-90)" font-size="15.1" text-anchor="middle">Yangtze River level (m, Yellow Sea Datum)</text>
</g>
<path d="M55.2 47.7H77" stroke="#ff0000" stroke-width="2.4"/>
<path d="M55.2 63.4H77" stroke="#0066ff" stroke-width="2.4"/>
<path d="M55.2 82.3H77" stroke="#3a3a3a" stroke-width="2.5"/>
<g class="t">
<text x="79.6" y="52" font-size="10.95">Regulated Yangtze levels (2009−2012, observed)</text>
<text x="79.6" y="66.7" font-size="10.95">Natural/non−regulated Yangtze levels (2009−2012, estimated)</text>
<text x="79.6" y="81.5" font-size="10.95">Natural Yangtze levels assuming no channel geometric</text>
<text x="79.6" y="93.6" font-size="10.95">changes since 2004 (2009−2012, estimated)</text>
<text x="784.5" y="136.6" font-size="10.85">st.2. YC</text>
<text x="784.5" y="205.7" font-size="10.85">st.3. SS</text>
<text x="784.5" y="264.2" font-size="10.85">st.4. JL</text>
<text x="784.5" y="306.7" font-size="10.85">st.6. LS</text>
<text x="784.5" y="351.2" font-size="10.85">st.7. HanK</text>
<text x="784.5" y="376.6" font-size="10.85">st.8. HS</text>
<text x="784.5" y="404.3" font-size="10.85">st.10. HuK</text>
<text x="784.5" y="418.8" font-size="10.85">st.11. AQ</text>
<text x="784.5" y="431.8" font-size="10.85">st.12. DT</text>
<text x="784.5" y="442.4" font-size="10.85">st.13. WH</text>
<text x="784.5" y="453.0" font-size="10.85">st.14. NJ</text>
<text x="784.5" y="462.1" font-size="10.85">st.15. ZJ</text>
</g></svg></body></html>
